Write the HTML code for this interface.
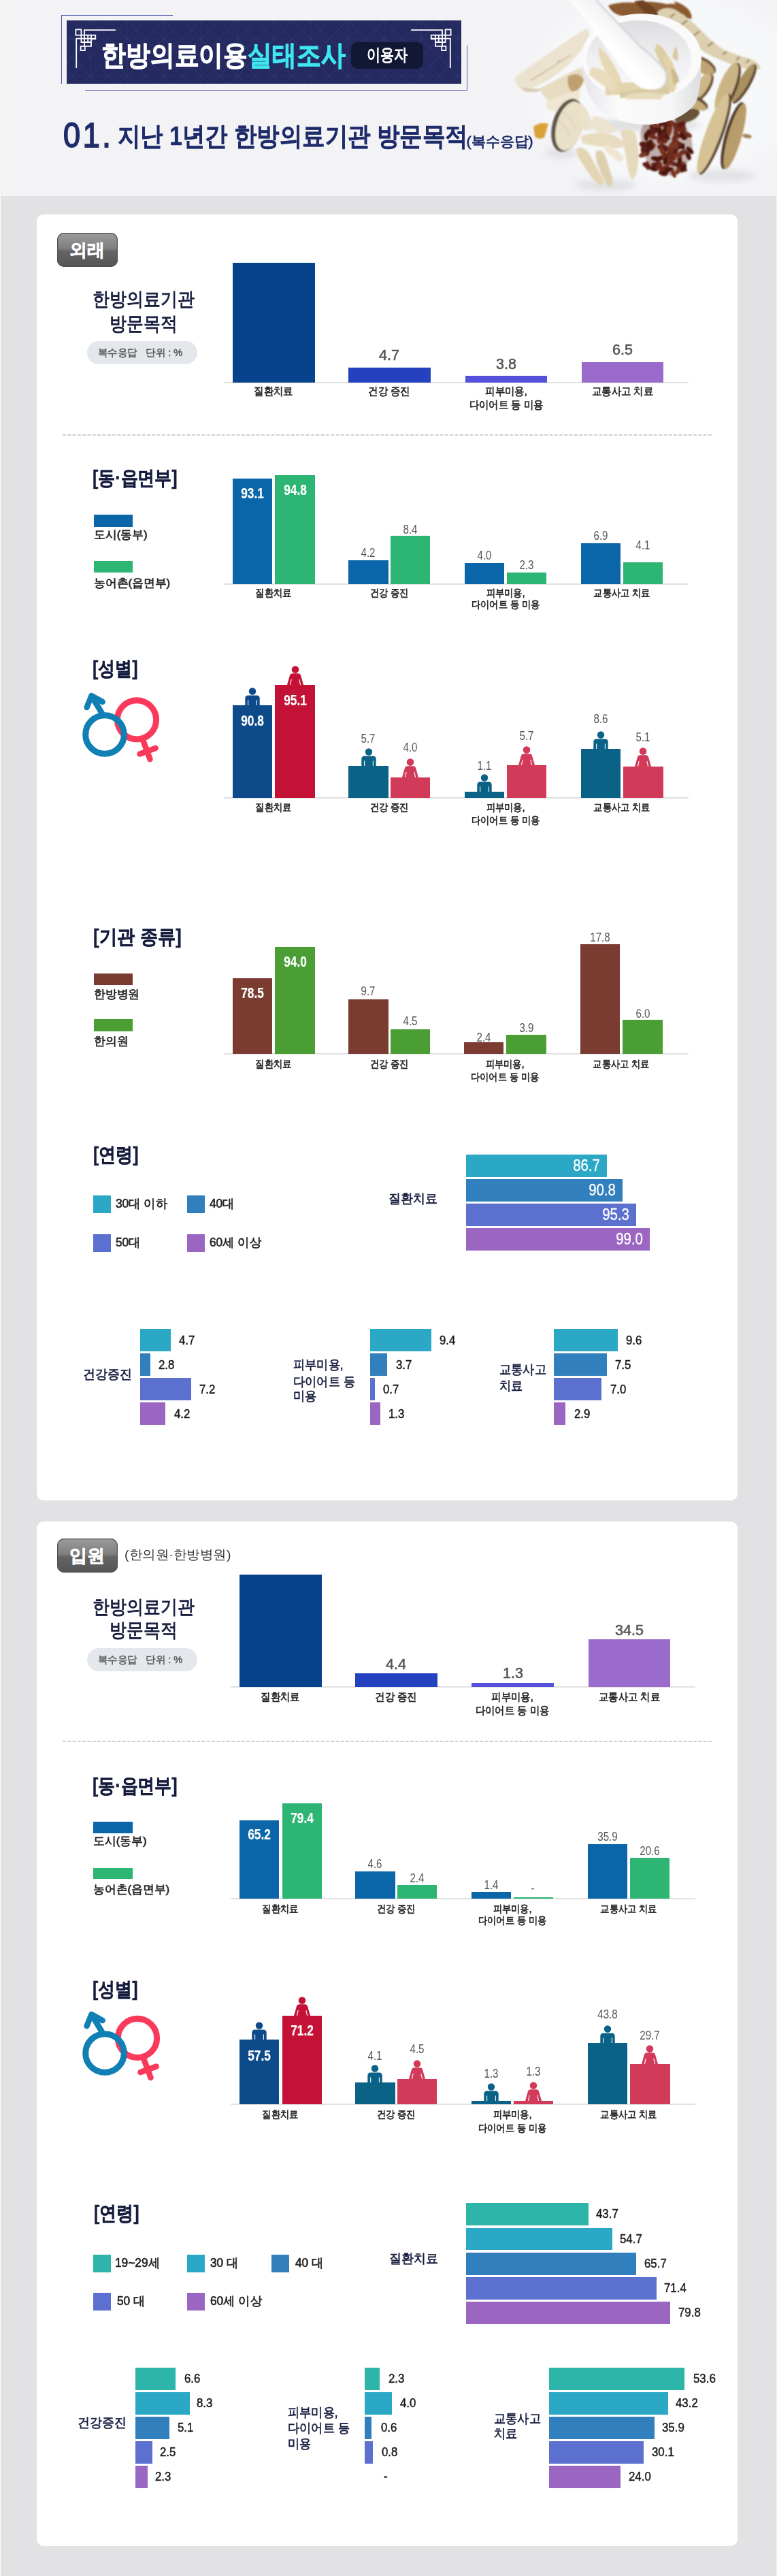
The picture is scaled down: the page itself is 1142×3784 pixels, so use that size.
<!DOCTYPE html><html><head><meta charset="utf-8"><style>html,body{margin:0;padding:0;}body{width:1142px;height:3784px;position:relative;overflow:hidden;background:#e2e2e5;font-family:"Liberation Sans",sans-serif;}.a{position:absolute;}.t{position:absolute;white-space:nowrap;}.badge{border-radius:10px;background:linear-gradient(#9c9c9c 0%,#7f7f7f 46%,#646464 54%,#555555 100%);box-shadow:inset 0 0 0 1.2px #505050;}.dash{height:2px;background:repeating-linear-gradient(90deg,#d2d2d2 0 5px,transparent 5px 7.3px);}</style></head><body>
<div class="a" style="left:0.0px;top:0.0px;width:1142.0px;height:288.0px;background:#f3f3f6;"></div>
<div class="a" style="left:0.0px;top:0.0px;width:1.0px;height:3784.0px;background:#fafafa;"></div>
<div class="a" style="left:1.0px;top:0.0px;width:1.0px;height:288.0px;background:#e9e9ec;"></div>
<div class="a" style="left:1141.0px;top:288.0px;width:1.0px;height:3496.0px;background:#f2f2f4;"></div>
<div class="a" style="left:90.0px;top:22.0px;width:164.0px;height:1.0px;background:#4c55a8;"></div>
<div class="a" style="left:90.0px;top:22.0px;width:1.0px;height:101.0px;background:#4c55a8;"></div>
<div class="a" style="left:125.0px;top:132.0px;width:562.0px;height:1.0px;background:#4c55a8;"></div>
<div class="a" style="left:686.0px;top:67.0px;width:1.0px;height:66.0px;background:#4c55a8;"></div>
<svg class="a" style="left:98px;top:30px;" width="580" height="93" viewBox="0 0 580 93"><defs><pattern id="dp" width="54" height="54" patternUnits="userSpaceOnUse" x="8" y="0"><path d="M0 27 L27 0 L54 27 L27 54 Z M0 0 L54 54 M54 0 L0 54" fill="none" stroke="#3a4180" stroke-width="1" opacity="0.55"/><path d="M27 0 V54 M0 27 H54" stroke="#333a78" stroke-width="1" opacity="0.35"/></pattern></defs><rect width="580" height="93" fill="#242a60"/><rect width="580" height="93" fill="url(#dp)"/></svg>
<svg class="a" style="left:106px;top:38px;" width="64" height="62" viewBox="0 0 64 62"><g fill="none" stroke="#ffffff" stroke-width="1.8" stroke-linecap="square"><rect x="5.4" y="5.4" width="8" height="8.3"/><path d="M18 6.2 H63 M18 6.2 V29.9 M13.4 13.7 V24 M23.2 13.7 V24 M13.4 13.7 H28 M6.2 18.6 H34 M13.4 24 H28 M6.2 18.6 V61 M28 18.6 V29.9 H18"/><rect x="28" y="13.7" width="6.3" height="5.6"/><rect x="12.6" y="29.9" width="6.2" height="6.2"/></g></svg>
<svg class="a" style="left:604px;top:38px;transform:scaleX(-1);" width="64" height="62" viewBox="0 0 64 62"><g fill="none" stroke="#ffffff" stroke-width="1.8" stroke-linecap="square"><rect x="5.4" y="5.4" width="8" height="8.3"/><path d="M18 6.2 H63 M18 6.2 V29.9 M13.4 13.7 V24 M23.2 13.7 V24 M13.4 13.7 H28 M6.2 18.6 H34 M13.4 24 H28 M6.2 18.6 V61 M28 18.6 V29.9 H18"/><rect x="28" y="13.7" width="6.3" height="5.6"/><rect x="12.6" y="29.9" width="6.2" height="6.2"/></g></svg>
<svg class="a" style="left:740px;top:0px;" width="402" height="288" viewBox="0 0 402 288"><defs><filter id="bl" x="-10%" y="-10%" width="120%" height="120%"><feGaussianBlur stdDeviation="0.8"/></filter><filter id="bl2" x="-30%" y="-30%" width="160%" height="160%"><feGaussianBlur stdDeviation="5"/></filter><linearGradient id="bowlg" x1="0" y1="0" x2="1" y2="0"><stop offset="0" stop-color="#e4e5e8"/><stop offset="0.3" stop-color="#fbfbfc"/><stop offset="0.75" stop-color="#f6f6f7"/><stop offset="1" stop-color="#dcdde0"/></linearGradient><linearGradient id="inng" x1="0" y1="0" x2="0" y2="1"><stop offset="0" stop-color="#dcdde0"/><stop offset="0.5" stop-color="#f0f0f2"/><stop offset="1" stop-color="#fafafb"/></linearGradient><linearGradient id="pestg" x1="0" y1="1" x2="1" y2="0"><stop offset="0" stop-color="#f0f1f3"/><stop offset="0.45" stop-color="#ffffff"/><stop offset="1" stop-color="#d5d6da"/></linearGradient><radialGradient id="bgfade" cx="0.6" cy="0.45" r="0.6"><stop offset="0" stop-color="#f8f9fa"/><stop offset="0.75" stop-color="#f6f7f9"/><stop offset="1" stop-color="#f3f3f6" stop-opacity="0"/></radialGradient></defs><rect x="0" y="0" width="402" height="288" fill="url(#bgfade)"/><g filter="url(#bl2)" opacity="0.55"><ellipse cx="205" cy="184" rx="85" ry="9" fill="#c9cacd"/><ellipse cx="150" cy="272" rx="45" ry="8" fill="#d2d3d6"/><ellipse cx="320" cy="258" rx="50" ry="9" fill="#d2d3d6"/><ellipse cx="85" cy="225" rx="25" ry="8" fill="#d2d3d6"/></g><g filter="url(#bl)"><path d="M154 8 Q170 2 195 4 Q215 0 240 6 Q258 4 268 12 L262 26 Q240 24 220 20 Q200 26 178 24 Q160 22 154 8 Z" fill="#8a5a32"/><path d="M192 2 L205 0 Q222 10 228 22 L214 26 Q204 14 192 2 Z" fill="#6e4224"/><path d="M250 2 Q262 4 272 14 Q278 22 276 28 L268 26 Q260 14 250 2 Z" fill="#8c5a2e"/><path d="M226 18 Q236 8 252 14 Q272 26 290 44 Q305 60 322 72 Q345 82 362 86 Q376 92 378 100 Q370 106 352 100 Q332 94 314 86 Q300 80 288 72 Q270 56 250 42 Q232 32 226 18 Z" fill="#ddd0b0"/><path d="M245 25 L252 20 M262 36 L270 30 M280 52 L288 46 M300 68 L308 62 M322 80 L328 76 M342 88 L347 84 M357 92 L361 88" stroke="#8a7050" stroke-width="2"/><ellipse cx="270.0" cy="170.0" rx="19" ry="9" fill="#6a5238" transform="rotate(-20 270.0 170.0)"/><ellipse cx="294.5" cy="98.0" rx="10.5" ry="21" fill="#6e5436" transform="rotate(-60 292.0 98.0)"/><ellipse cx="292.0" cy="98.0" rx="9" ry="20" fill="#bfa574" transform="rotate(-60 292.0 98.0)"/><ellipse cx="354.5" cy="122.0" rx="8.5" ry="33" fill="#5e4630" transform="rotate(30 352.0 122.0)"/><ellipse cx="352.0" cy="122.0" rx="7" ry="32" fill="#a89060" transform="rotate(30 352.0 122.0)"/><ellipse cx="330.5" cy="128.0" rx="12.5" ry="39" fill="#5a4230" transform="rotate(22 328.0 128.0)"/><ellipse cx="328.0" cy="128.0" rx="11" ry="38" fill="#cbb484" transform="rotate(22 328.0 128.0)"/><ellipse cx="292.5" cy="128.0" rx="10.5" ry="25" fill="#6a5034" transform="rotate(35 290.0 128.0)"/><ellipse cx="290.0" cy="128.0" rx="9" ry="24" fill="#cdb788" transform="rotate(35 290.0 128.0)"/><ellipse cx="282.5" cy="152.0" rx="8.5" ry="21" fill="#5e4630" transform="rotate(-65 280.0 152.0)"/><ellipse cx="280.0" cy="152.0" rx="7" ry="20" fill="#c4ab7a" transform="rotate(-65 280.0 152.0)"/><ellipse cx="337.0" cy="200.0" rx="11.5" ry="51" fill="#4e3826" transform="rotate(16 340.0 200.0)"/><ellipse cx="340.0" cy="200.0" rx="10" ry="50" fill="#b89c6a" transform="rotate(16 340.0 200.0)"/><ellipse cx="310.5" cy="196.0" rx="12.5" ry="63" fill="#5e4630" transform="rotate(20 308.0 196.0)"/><ellipse cx="308.0" cy="196.0" rx="11" ry="62" fill="#d6c294" transform="rotate(20 308.0 196.0)"/><ellipse cx="358.0" cy="200.0" rx="7" ry="3" fill="#a08860" transform="rotate(10 358.0 200.0)"/><path d="M206 182 Q225 172 248 176 Q270 182 275 200 Q282 222 270 240 Q262 258 248 258 Q232 256 222 248 Q206 236 204 215 Q198 195 206 182 Z" fill="#5a2a22" opacity="0.35"/><ellipse cx="227.3" cy="188.4" rx="6.8" ry="3.4" fill="#5a1c14" transform="rotate(117 227.3 188.4)"/><ellipse cx="263.1" cy="183.7" rx="6.8" ry="3.4" fill="#6e2a1e" transform="rotate(105 263.1 183.7)"/><ellipse cx="206.7" cy="211.6" rx="6.8" ry="3.4" fill="#5a1c14" transform="rotate(13 206.7 211.6)"/><ellipse cx="243.7" cy="180.8" rx="6.8" ry="3.4" fill="#6e2a1e" transform="rotate(102 243.7 180.8)"/><ellipse cx="249.4" cy="223.8" rx="6.8" ry="3.4" fill="#7a3424" transform="rotate(11 249.4 223.8)"/><ellipse cx="244.1" cy="186.9" rx="6.8" ry="3.4" fill="#5a1c14" transform="rotate(75 244.1 186.9)"/><ellipse cx="245.1" cy="221.9" rx="6.8" ry="3.4" fill="#5a1c14" transform="rotate(123 245.1 221.9)"/><ellipse cx="245.9" cy="228.4" rx="6.8" ry="3.4" fill="#5a1c14" transform="rotate(67 245.9 228.4)"/><ellipse cx="244.6" cy="226.8" rx="6.8" ry="3.4" fill="#7a3424" transform="rotate(89 244.6 226.8)"/><ellipse cx="260.0" cy="214.2" rx="6.8" ry="3.4" fill="#4a1510" transform="rotate(166 260.0 214.2)"/><ellipse cx="225.6" cy="241.1" rx="6.8" ry="3.4" fill="#6e2a1e" transform="rotate(126 225.6 241.1)"/><ellipse cx="209.9" cy="200.6" rx="6.8" ry="3.4" fill="#4a1510" transform="rotate(89 209.9 200.6)"/><ellipse cx="256.5" cy="199.6" rx="6.8" ry="3.4" fill="#5a1c14" transform="rotate(176 256.5 199.6)"/><ellipse cx="240.9" cy="189.5" rx="6.8" ry="3.4" fill="#7a3424" transform="rotate(62 240.9 189.5)"/><ellipse cx="234.4" cy="254.9" rx="6.8" ry="3.4" fill="#4a1510" transform="rotate(14 234.4 254.9)"/><ellipse cx="228.5" cy="204.7" rx="6.8" ry="3.4" fill="#7a3424" transform="rotate(89 228.5 204.7)"/><ellipse cx="223.4" cy="233.2" rx="6.8" ry="3.4" fill="#4a1510" transform="rotate(12 223.4 233.2)"/><ellipse cx="263.2" cy="199.3" rx="6.8" ry="3.4" fill="#4a1510" transform="rotate(69 263.2 199.3)"/><ellipse cx="205.6" cy="213.9" rx="6.8" ry="3.4" fill="#5a1c14" transform="rotate(30 205.6 213.9)"/><ellipse cx="239.5" cy="193.9" rx="6.8" ry="3.4" fill="#6e2a1e" transform="rotate(52 239.5 193.9)"/><ellipse cx="232.6" cy="251.2" rx="6.8" ry="3.4" fill="#6e2a1e" transform="rotate(89 232.6 251.2)"/><ellipse cx="236.3" cy="221.1" rx="6.8" ry="3.4" fill="#7a3424" transform="rotate(159 236.3 221.1)"/><ellipse cx="266.2" cy="198.8" rx="6.8" ry="3.4" fill="#4a1510" transform="rotate(75 266.2 198.8)"/><ellipse cx="253.2" cy="207.2" rx="6.8" ry="3.4" fill="#5a1c14" transform="rotate(42 253.2 207.2)"/><ellipse cx="216.7" cy="195.0" rx="6.8" ry="3.4" fill="#7a3424" transform="rotate(42 216.7 195.0)"/><ellipse cx="263.8" cy="191.0" rx="6.8" ry="3.4" fill="#6e2a1e" transform="rotate(51 263.8 191.0)"/><ellipse cx="234.2" cy="206.3" rx="6.8" ry="3.4" fill="#6e2a1e" transform="rotate(102 234.2 206.3)"/><ellipse cx="253.7" cy="218.3" rx="6.8" ry="3.4" fill="#5a1c14" transform="rotate(111 253.7 218.3)"/><ellipse cx="236.9" cy="247.4" rx="6.8" ry="3.4" fill="#7a3424" transform="rotate(171 236.9 247.4)"/><ellipse cx="232.7" cy="208.3" rx="6.8" ry="3.4" fill="#7a3424" transform="rotate(87 232.7 208.3)"/><ellipse cx="219.0" cy="189.3" rx="6.8" ry="3.4" fill="#5a1c14" transform="rotate(61 219.0 189.3)"/><ellipse cx="211.4" cy="222.5" rx="6.8" ry="3.4" fill="#4a1510" transform="rotate(97 211.4 222.5)"/><ellipse cx="248.2" cy="181.8" rx="6.8" ry="3.4" fill="#7a3424" transform="rotate(37 248.2 181.8)"/><ellipse cx="214.7" cy="196.7" rx="6.8" ry="3.4" fill="#4a1510" transform="rotate(63 214.7 196.7)"/><ellipse cx="238.1" cy="185.5" rx="6.8" ry="3.4" fill="#7a3424" transform="rotate(88 238.1 185.5)"/><ellipse cx="238.6" cy="201.6" rx="6.8" ry="3.4" fill="#4a1510" transform="rotate(26 238.6 201.6)"/><ellipse cx="257.3" cy="215.2" rx="6.8" ry="3.4" fill="#5a1c14" transform="rotate(125 257.3 215.2)"/><ellipse cx="230.0" cy="232.6" rx="6.8" ry="3.4" fill="#4a1510" transform="rotate(165 230.0 232.6)"/><ellipse cx="254.1" cy="197.4" rx="6.8" ry="3.4" fill="#6e2a1e" transform="rotate(66 254.1 197.4)"/><ellipse cx="229.6" cy="194.3" rx="6.8" ry="3.4" fill="#4a1510" transform="rotate(97 229.6 194.3)"/><ellipse cx="249.8" cy="226.3" rx="6.8" ry="3.4" fill="#6e2a1e" transform="rotate(142 249.8 226.3)"/><ellipse cx="262.0" cy="243.1" rx="6.8" ry="3.4" fill="#6e2a1e" transform="rotate(133 262.0 243.1)"/><ellipse cx="218.4" cy="216.4" rx="6.8" ry="3.4" fill="#5a1c14" transform="rotate(132 218.4 216.4)"/><ellipse cx="260.9" cy="214.7" rx="6.8" ry="3.4" fill="#4a1510" transform="rotate(35 260.9 214.7)"/><ellipse cx="236.2" cy="252.8" rx="6.8" ry="3.4" fill="#4a1510" transform="rotate(178 236.2 252.8)"/><ellipse cx="237.8" cy="203.7" rx="6.8" ry="3.4" fill="#5a1c14" transform="rotate(87 237.8 203.7)"/><ellipse cx="238.5" cy="229.5" rx="6.8" ry="3.4" fill="#5a1c14" transform="rotate(144 238.5 229.5)"/><ellipse cx="264.1" cy="185.8" rx="6.8" ry="3.4" fill="#6e2a1e" transform="rotate(70 264.1 185.8)"/><ellipse cx="238.4" cy="190.6" rx="6.8" ry="3.4" fill="#4a1510" transform="rotate(142 238.4 190.6)"/><ellipse cx="256.0" cy="214.0" rx="6.8" ry="3.4" fill="#5a1c14" transform="rotate(134 256.0 214.0)"/><ellipse cx="256.2" cy="189.9" rx="6.8" ry="3.4" fill="#6e2a1e" transform="rotate(23 256.2 189.9)"/><ellipse cx="246.5" cy="214.2" rx="6.8" ry="3.4" fill="#7a3424" transform="rotate(118 246.5 214.2)"/><ellipse cx="251.3" cy="204.7" rx="6.8" ry="3.4" fill="#6e2a1e" transform="rotate(99 251.3 204.7)"/><ellipse cx="256.3" cy="184.4" rx="6.8" ry="3.4" fill="#6e2a1e" transform="rotate(135 256.3 184.4)"/><ellipse cx="235.2" cy="247.5" rx="6.8" ry="3.4" fill="#6e2a1e" transform="rotate(149 235.2 247.5)"/><ellipse cx="240.1" cy="238.6" rx="6.8" ry="3.4" fill="#7a3424" transform="rotate(59 240.1 238.6)"/><ellipse cx="257.3" cy="249.6" rx="6.8" ry="3.4" fill="#7a3424" transform="rotate(119 257.3 249.6)"/><ellipse cx="263.6" cy="248.0" rx="6.8" ry="3.4" fill="#6e2a1e" transform="rotate(24 263.6 248.0)"/><ellipse cx="241.7" cy="177.5" rx="6.8" ry="3.4" fill="#6e2a1e" transform="rotate(79 241.7 177.5)"/><ellipse cx="247.8" cy="239.6" rx="6.8" ry="3.4" fill="#6e2a1e" transform="rotate(27 247.8 239.6)"/><ellipse cx="238.1" cy="235.5" rx="6.8" ry="3.4" fill="#4a1510" transform="rotate(100 238.1 235.5)"/><ellipse cx="253.1" cy="219.5" rx="6.8" ry="3.4" fill="#5a1c14" transform="rotate(87 253.1 219.5)"/><ellipse cx="211.0" cy="213.1" rx="6.8" ry="3.4" fill="#5a1c14" transform="rotate(5 211.0 213.1)"/><ellipse cx="235.9" cy="226.2" rx="6.8" ry="3.4" fill="#6e2a1e" transform="rotate(91 235.9 226.2)"/><ellipse cx="253.9" cy="213.1" rx="6.8" ry="3.4" fill="#7a3424" transform="rotate(96 253.9 213.1)"/><ellipse cx="240.6" cy="196.3" rx="6.8" ry="3.4" fill="#4a1510" transform="rotate(94 240.6 196.3)"/><ellipse cx="218.6" cy="212.7" rx="6.8" ry="3.4" fill="#7a3424" transform="rotate(75 218.6 212.7)"/><ellipse cx="235.8" cy="181.9" rx="6.8" ry="3.4" fill="#5a1c14" transform="rotate(43 235.8 181.9)"/><ellipse cx="219.3" cy="200.8" rx="6.8" ry="3.4" fill="#6e2a1e" transform="rotate(22 219.3 200.8)"/><ellipse cx="271.6" cy="228.8" rx="6.8" ry="3.4" fill="#4a1510" transform="rotate(66 271.6 228.8)"/><ellipse cx="232.7" cy="216.0" rx="6.8" ry="3.4" fill="#6e2a1e" transform="rotate(178 232.7 216.0)"/><ellipse cx="215.6" cy="211.4" rx="6.8" ry="3.4" fill="#4a1510" transform="rotate(93 215.6 211.4)"/><ellipse cx="234.3" cy="205.2" rx="6.8" ry="3.4" fill="#4a1510" transform="rotate(17 234.3 205.2)"/><ellipse cx="205.4" cy="221.4" rx="6.8" ry="3.4" fill="#5a1c14" transform="rotate(79 205.4 221.4)"/><ellipse cx="231.7" cy="218.4" rx="6.8" ry="3.4" fill="#5a1c14" transform="rotate(53 231.7 218.4)"/><ellipse cx="220.5" cy="247.9" rx="6.8" ry="3.4" fill="#4a1510" transform="rotate(15 220.5 247.9)"/><ellipse cx="223.5" cy="186.6" rx="6.8" ry="3.4" fill="#4a1510" transform="rotate(76 223.5 186.6)"/><ellipse cx="233.2" cy="220.0" rx="6.8" ry="3.4" fill="#7a3424" transform="rotate(93 233.2 220.0)"/><ellipse cx="254.4" cy="183.3" rx="6.8" ry="3.4" fill="#6e2a1e" transform="rotate(10 254.4 183.3)"/><ellipse cx="234.6" cy="181.9" rx="6.8" ry="3.4" fill="#5a1c14" transform="rotate(169 234.6 181.9)"/><ellipse cx="261.7" cy="182.9" rx="6.8" ry="3.4" fill="#5a1c14" transform="rotate(154 261.7 182.9)"/><ellipse cx="223.0" cy="186.0" rx="6.8" ry="3.4" fill="#7a3424" transform="rotate(2 223.0 186.0)"/><ellipse cx="270.7" cy="198.0" rx="6.8" ry="3.4" fill="#6e2a1e" transform="rotate(23 270.7 198.0)"/><ellipse cx="222.9" cy="190.9" rx="6.8" ry="3.4" fill="#4a1510" transform="rotate(168 222.9 190.9)"/><ellipse cx="242.2" cy="192.9" rx="6.8" ry="3.4" fill="#6e2a1e" transform="rotate(80 242.2 192.9)"/><ellipse cx="223.5" cy="241.9" rx="6.8" ry="3.4" fill="#5a1c14" transform="rotate(179 223.5 241.9)"/><ellipse cx="243.7" cy="191.5" rx="6.8" ry="3.4" fill="#7a3424" transform="rotate(85 243.7 191.5)"/><ellipse cx="211.7" cy="243.2" rx="6.8" ry="3.4" fill="#7a3424" transform="rotate(78 211.7 243.2)"/><ellipse cx="243.3" cy="248.9" rx="6.8" ry="3.4" fill="#4a1510" transform="rotate(175 243.3 248.9)"/><ellipse cx="228.7" cy="244.2" rx="6.8" ry="3.4" fill="#6e2a1e" transform="rotate(127 228.7 244.2)"/><ellipse cx="233.1" cy="204.5" rx="6.8" ry="3.4" fill="#6e2a1e" transform="rotate(10 233.1 204.5)"/><ellipse cx="205.0" cy="227.3" rx="6.8" ry="3.4" fill="#7a3424" transform="rotate(158 205.0 227.3)"/><ellipse cx="264.6" cy="247.4" rx="6.8" ry="3.4" fill="#4a1510" transform="rotate(121 264.6 247.4)"/><ellipse cx="247.1" cy="232.8" rx="6.8" ry="3.4" fill="#6e2a1e" transform="rotate(8 247.1 232.8)"/><ellipse cx="215.3" cy="212.6" rx="6.8" ry="3.4" fill="#4a1510" transform="rotate(47 215.3 212.6)"/><ellipse cx="274.0" cy="220.9" rx="6.8" ry="3.4" fill="#4a1510" transform="rotate(44 274.0 220.9)"/><ellipse cx="219.7" cy="191.0" rx="6.8" ry="3.4" fill="#5a1c14" transform="rotate(60 219.7 191.0)"/><ellipse cx="238.2" cy="217.2" rx="6.8" ry="3.4" fill="#5a1c14" transform="rotate(36 238.2 217.2)"/><ellipse cx="210.5" cy="243.0" rx="6.8" ry="3.4" fill="#5a1c14" transform="rotate(26 210.5 243.0)"/><ellipse cx="232.4" cy="200.6" rx="6.8" ry="3.4" fill="#5a1c14" transform="rotate(113 232.4 200.6)"/><ellipse cx="246.2" cy="219.4" rx="6.8" ry="3.4" fill="#7a3424" transform="rotate(135 246.2 219.4)"/><ellipse cx="259.0" cy="235.1" rx="6.8" ry="3.4" fill="#4a1510" transform="rotate(89 259.0 235.1)"/><ellipse cx="256.1" cy="228.7" rx="6.8" ry="3.4" fill="#7a3424" transform="rotate(8 256.1 228.7)"/><ellipse cx="256.8" cy="242.6" rx="6.8" ry="3.4" fill="#5a1c14" transform="rotate(25 256.8 242.6)"/><ellipse cx="263.5" cy="223.9" rx="6.8" ry="3.4" fill="#6e2a1e" transform="rotate(161 263.5 223.9)"/><ellipse cx="249.9" cy="254.7" rx="6.8" ry="3.4" fill="#7a3424" transform="rotate(68 249.9 254.7)"/><ellipse cx="244.2" cy="227.5" rx="6.8" ry="3.4" fill="#6e2a1e" transform="rotate(113 244.2 227.5)"/><path d="M17 114 Q40 96 70 76 Q98 56 122 42 Q128 44 126 56 Q112 80 90 100 Q62 124 32 132 Q18 130 17 114 Z" fill="#ebe3cf"/><path d="M40 118 Q70 100 100 80 M55 110 L62 104 M78 92 L84 88" stroke="#c8b48c" stroke-width="1.5" fill="none"/><path d="M26 128 Q50 132 62 130 Q48 138 30 134 Z" fill="#d8cbb0"/><path d="M54 130 Q80 115 112 100 Q122 104 118 120 Q105 140 80 150 Q60 152 54 130 Z" fill="#e7dcc2"/><path d="M95 112 Q112 104 118 118 Q114 132 102 136 Q92 128 95 112 Z" fill="#c0a070"/><path d="M62 150 Q90 136 112 132 Q116 148 100 158 Q78 168 64 160 Z" fill="#efe7d4"/><ellipse cx="94" cy="184" rx="22" ry="40" transform="rotate(16 94 184)" fill="#5f5548"/><ellipse cx="97" cy="185" rx="19" ry="37" transform="rotate(16 97 185)" fill="#e9e0c8"/><path d="M85 165 Q100 170 105 190 M80 178 Q92 182 96 200" stroke="#d8cab0" stroke-width="1.2" fill="none"/><path d="M44 186 Q55 178 66 182 L60 202 Q50 206 46 200 Z" fill="#d9a238"/><path d="M112 150 Q125 160 132 185 Q125 195 115 190 Q108 170 112 150 Z" fill="#ebe2ce"/><path d="M132 170 Q150 172 166 190 Q160 198 140 196 Q128 188 132 170 Z" fill="#ece3d0"/><path d="M114 200 Q135 192 160 198 Q178 206 180 214 Q168 220 150 216 Q128 214 116 210 Z" fill="#e7dcc0"/><path d="M108 218 Q118 214 126 226 Q138 248 146 262 Q150 272 140 272 Q126 258 116 240 Q106 228 108 218 Z" fill="#e3d5b4"/><path d="M136 222 Q146 218 150 230 Q156 248 160 262 Q162 274 154 274 Q146 262 140 246 Q134 232 136 222 Z" fill="#ddd0ae"/><path d="M172 192 Q186 186 194 196 Q200 218 198 240 Q196 262 188 264 Q182 250 180 230 Q176 210 172 192 Z" fill="#e6dabc"/><path d="M150 212 Q168 220 178 232 L170 238 Q156 228 148 220 Z" fill="#efe6d2"/></g><path d="M116 86 Q114 140 148 166 Q180 184 214 183 Q260 180 282 152 Q292 130 290 86 Z" fill="url(#bowlg)"/><ellipse cx="203" cy="84" rx="88" ry="64" fill="#fafafb"/><ellipse cx="199" cy="87" rx="77" ry="57" fill="url(#inng)"/><g filter="url(#bl)"><path d="M140 70 Q152 75 170 110 Q178 130 172 140 Q162 132 150 105 Q138 82 140 70 Z" fill="#e6d8b4"/><path d="M190 62 Q200 64 204 80 Q208 110 202 136 L194 136 Q192 100 186 72 Z" fill="#d6c498"/><path d="M150 126 Q180 118 220 122 Q236 126 240 136 L150 140 Z" fill="#e2d4ae"/><path d="M226 64 Q240 72 246 96 Q250 118 244 132 L234 128 Q236 100 222 74 Z" fill="#dccca4"/><path d="M252 68 Q258 74 256 90 L248 84 Z" fill="#d8c8a0"/><path d="M128 100 Q150 96 168 128 L160 136 Q140 120 126 110 Z" fill="#e8dcbc"/><path d="M206 104 Q222 112 232 138 L220 140 Q210 124 202 112 Z" fill="#cdb88c"/><path d="M170 136 Q200 130 246 128 L244 138 Q200 142 172 144 Z" fill="#d9c9a0"/><path d="M238 80 Q248 84 254 110 Q256 128 250 136 L242 134 Q244 110 234 86 Z" fill="#e2d2aa"/><path d="M206 76 Q214 80 216 96 L208 98 Z" fill="#e6d8b6"/><path d="M246 100 Q256 104 258 120 L250 124 Z" fill="#cdb98e"/><path d="M180 140 Q210 132 236 138 L232 146 Q206 146 182 146 Z" fill="#e6dbbd"/></g><g filter="url(#bl)"><path d="M97 0 L136 0 Q170 36 202 69 Q228 90 238 104 Q244 122 230 130 Q214 134 202 129 Q190 122 182 111 Q168 94 156 77 Q138 52 123 31 Z" fill="url(#pestg)"/><path d="M136 0 Q170 36 202 69 Q228 90 238 104 Q244 122 230 130" stroke="#d2d3d6" stroke-width="2.5" fill="none"/></g></svg>
<div class="t" style="left:149.0px;top:56.6px;height:49.2px;line-height:49.2px;font-size:41px;color:#ffffff;font-weight:bold;transform:scaleX(0.874);transform-origin:left center;-webkit-text-stroke:1.0px #ffffff;">한방의료이용<span style="color:#3fe6f0;-webkit-text-stroke-color:#3fe6f0">실태조사</span></div>
<div class="a" style="left:516.0px;top:62.0px;width:106.0px;height:39.0px;background:#121733;border-radius:9px;"></div>
<div class="t" style="left:169.3px;width:800px;text-align:center;top:66.3px;height:29.5px;line-height:29.5px;font-size:24.6px;color:#ffffff;transform:scaleX(0.81);transform-origin:center center;-webkit-text-stroke:1.0px #ffffff;">이용자</div>
<div class="t" style="left:92.5px;top:169.4px;height:60.0px;line-height:60.0px;font-size:50px;color:#1f2c6a;letter-spacing:4px;transform:scaleX(0.9);transform-origin:left center;-webkit-text-stroke:1.8px #1f2c6a;">01.</div>
<div class="t" style="left:173.4px;top:177.6px;height:45.6px;line-height:45.6px;font-size:38px;color:#1f2c6a;font-weight:bold;transform:scaleX(0.88);transform-origin:left center;-webkit-text-stroke:0.5px #1f2c6a;">지난 1년간 한방의료기관 방문목적</div>
<div class="t" style="left:685.6px;top:194.8px;height:25.2px;line-height:25.2px;font-size:21px;color:#1f2c6a;-webkit-text-stroke:0.8px #1f2c6a;">(복수응답)</div>
<div class="a" style="left:54.0px;top:315.0px;width:1030.0px;height:1889.0px;background:#ffffff;border-radius:10px;"></div>
<div class="a badge" style="left:84px;top:342px;width:89px;height:50px;"></div>
<div class="t" style="left:-272.4px;width:800px;text-align:center;top:351.8px;height:31.2px;line-height:31.2px;font-size:26px;color:#ffffff;font-weight:bold;-webkit-text-stroke:0.5px #ffffff;">외래</div>
<div class="t" style="left:-189.0px;width:800px;text-align:center;top:423.4px;height:33.6px;line-height:33.6px;font-size:28px;color:#161c3d;transform:scaleX(0.89);transform-origin:center center;-webkit-text-stroke:0.9px #161c3d;">한방의료기관</div>
<div class="t" style="left:-189.0px;width:800px;text-align:center;top:458.9px;height:33.6px;line-height:33.6px;font-size:28px;color:#161c3d;transform:scaleX(0.89);transform-origin:center center;-webkit-text-stroke:0.9px #161c3d;">방문목적</div>
<div class="a" style="left:128.0px;top:501.0px;width:162.0px;height:34.0px;background:#e4e7eb;border-radius:17px;"></div>
<div class="t" style="left:-194.0px;width:800px;text-align:center;top:508.6px;height:18.0px;line-height:18.0px;font-size:15px;color:#555;transform:scaleX(0.97);transform-origin:center center;-webkit-text-stroke:0.45px #555;">복수응답&nbsp;&nbsp;&nbsp;단위 : %</div>
<div class="a" style="left:329.0px;top:561.0px;width:683.0px;height:2.0px;background:#e2e2e2;"></div>
<div class="a" style="left:342.0px;top:386.0px;width:121.0px;height:176.0px;background:#07438c;"></div>
<div class="a" style="left:512.0px;top:540.0px;width:121.0px;height:22.0px;background:#2441bf;"></div>
<div class="a" style="left:684.0px;top:552.0px;width:120.0px;height:10.0px;background:#5551dc;"></div>
<div class="a" style="left:855.0px;top:532.0px;width:120.0px;height:30.0px;background:#9a6bcc;"></div>
<div class="t" style="left:172.0px;width:800px;text-align:center;top:507.8px;height:27.1px;line-height:27.1px;font-size:22.6px;color:#555555;transform:scaleX(0.95);transform-origin:center center;-webkit-text-stroke:0.6px #555555;">4.7</div>
<div class="t" style="left:344.0px;width:800px;text-align:center;top:521.0px;height:27.1px;line-height:27.1px;font-size:22.6px;color:#555555;transform:scaleX(0.95);transform-origin:center center;-webkit-text-stroke:0.6px #555555;">3.8</div>
<div class="t" style="left:515.0px;width:800px;text-align:center;top:500.1px;height:27.1px;line-height:27.1px;font-size:22.6px;color:#555555;transform:scaleX(0.95);transform-origin:center center;-webkit-text-stroke:0.6px #555555;">6.5</div>
<div class="t" style="left:2.0px;width:800px;text-align:center;top:565.4px;height:19.2px;line-height:19.2px;font-size:16px;color:#222222;transform:scaleX(0.9);transform-origin:center center;-webkit-text-stroke:0.65px #222222;">질환치료</div>
<div class="t" style="left:172.0px;width:800px;text-align:center;top:565.4px;height:19.2px;line-height:19.2px;font-size:16px;color:#222222;transform:scaleX(0.9);transform-origin:center center;-webkit-text-stroke:0.65px #222222;">건강 증진</div>
<div class="t" style="left:344.0px;width:800px;text-align:center;top:565.4px;height:19.2px;line-height:19.2px;font-size:16px;color:#222222;transform:scaleX(0.9);transform-origin:center center;-webkit-text-stroke:0.65px #222222;">피부미용,</div>
<div class="t" style="left:344.0px;width:800px;text-align:center;top:585.4px;height:19.2px;line-height:19.2px;font-size:16px;color:#222222;transform:scaleX(0.9);transform-origin:center center;-webkit-text-stroke:0.65px #222222;">다이어트 등 미용</div>
<div class="t" style="left:515.0px;width:800px;text-align:center;top:565.4px;height:19.2px;line-height:19.2px;font-size:16px;color:#222222;transform:scaleX(0.9);transform-origin:center center;-webkit-text-stroke:0.65px #222222;">교통사고 치료</div>
<svg class="a" style="left:92px;top:638px;" width="956" height="2" viewBox="0 0 956 2"><line x1="0" y1="1" x2="956" y2="1" stroke="#d0d0d0" stroke-width="2" stroke-dasharray="5 2.3"/></svg>
<div class="t" style="left:136.0px;top:684.7px;height:34.8px;line-height:34.8px;font-size:29px;color:#161c3d;font-weight:bold;transform:scaleX(0.86);transform-origin:left center;-webkit-text-stroke:0.4px #161c3d;">[동·읍면부]</div>
<div class="a" style="left:138.0px;top:756.0px;width:57.0px;height:17.5px;background:#0a66a9;"></div>
<div class="t" style="left:138.0px;top:776.3px;height:20.4px;line-height:20.4px;font-size:17px;color:#222222;transform:scaleX(0.99);transform-origin:left center;-webkit-text-stroke:0.65px #222222;">도시(동부)</div>
<div class="a" style="left:138.0px;top:824.0px;width:57.0px;height:16.6px;background:#2db573;"></div>
<div class="t" style="left:138.0px;top:847.3px;height:20.4px;line-height:20.4px;font-size:17px;color:#222222;transform:scaleX(0.99);transform-origin:left center;-webkit-text-stroke:0.65px #222222;">농어촌(읍면부)</div>
<div class="a" style="left:329.0px;top:857.0px;width:683.0px;height:2.0px;background:#e2e2e2;"></div>
<div class="a" style="left:342.0px;top:703.0px;width:58.0px;height:155.0px;background:#0a66a9;"></div>
<div class="a" style="left:404.0px;top:697.5px;width:59.0px;height:160.5px;background:#2db573;"></div>
<div class="a" style="left:512.0px;top:822.6px;width:59.0px;height:35.4px;background:#0a66a9;"></div>
<div class="a" style="left:574.0px;top:787.0px;width:58.0px;height:71.0px;background:#2db573;"></div>
<div class="a" style="left:683.0px;top:827.4px;width:58.0px;height:30.6px;background:#0a66a9;"></div>
<div class="a" style="left:745.0px;top:840.8px;width:58.0px;height:17.2px;background:#2db573;"></div>
<div class="a" style="left:854.0px;top:797.6px;width:58.0px;height:60.4px;background:#0a66a9;"></div>
<div class="a" style="left:916.0px;top:826.0px;width:58.0px;height:32.0px;background:#2db573;"></div>
<div class="t" style="left:-29.0px;width:800px;text-align:center;top:711.1px;height:27.2px;line-height:27.2px;font-size:22.7px;color:#fff;font-weight:bold;transform:scaleX(0.76);transform-origin:center center;-webkit-text-stroke:0.2px #fff;">93.1</div>
<div class="t" style="left:33.5px;width:800px;text-align:center;top:705.7px;height:27.2px;line-height:27.2px;font-size:22.7px;color:#fff;font-weight:bold;transform:scaleX(0.76);transform-origin:center center;-webkit-text-stroke:0.2px #fff;">94.8</div>
<div class="t" style="left:141.0px;width:800px;text-align:center;top:802.2px;height:21.6px;line-height:21.6px;font-size:18px;color:#555555;transform:scaleX(0.84);transform-origin:center center;">4.2</div>
<div class="t" style="left:203.0px;width:800px;text-align:center;top:768.2px;height:21.6px;line-height:21.6px;font-size:18px;color:#555555;transform:scaleX(0.84);transform-origin:center center;">8.4</div>
<div class="t" style="left:312.0px;width:800px;text-align:center;top:805.8px;height:21.6px;line-height:21.6px;font-size:18px;color:#555555;transform:scaleX(0.84);transform-origin:center center;">4.0</div>
<div class="t" style="left:374.0px;width:800px;text-align:center;top:819.7px;height:21.6px;line-height:21.6px;font-size:18px;color:#555555;transform:scaleX(0.84);transform-origin:center center;">2.3</div>
<div class="t" style="left:483.0px;width:800px;text-align:center;top:777.0px;height:21.6px;line-height:21.6px;font-size:18px;color:#555555;transform:scaleX(0.84);transform-origin:center center;">6.9</div>
<div class="t" style="left:545.0px;width:800px;text-align:center;top:791.2px;height:21.6px;line-height:21.6px;font-size:18px;color:#555555;transform:scaleX(0.84);transform-origin:center center;">4.1</div>
<div class="t" style="left:2.0px;width:800px;text-align:center;top:862.0px;height:18.0px;line-height:18.0px;font-size:15px;color:#222222;transform:scaleX(0.885);transform-origin:center center;-webkit-text-stroke:0.65px #222222;">질환치료</div>
<div class="t" style="left:172.0px;width:800px;text-align:center;top:862.0px;height:18.0px;line-height:18.0px;font-size:15px;color:#222222;transform:scaleX(0.885);transform-origin:center center;-webkit-text-stroke:0.65px #222222;">건강 증진</div>
<div class="t" style="left:343.0px;width:800px;text-align:center;top:862.0px;height:18.0px;line-height:18.0px;font-size:15px;color:#222222;transform:scaleX(0.885);transform-origin:center center;-webkit-text-stroke:0.65px #222222;">피부미용,</div>
<div class="t" style="left:343.0px;width:800px;text-align:center;top:879.2px;height:18.0px;line-height:18.0px;font-size:15px;color:#222222;transform:scaleX(0.885);transform-origin:center center;-webkit-text-stroke:0.65px #222222;">다이어트 등 미용</div>
<div class="t" style="left:514.0px;width:800px;text-align:center;top:862.0px;height:18.0px;line-height:18.0px;font-size:15px;color:#222222;transform:scaleX(0.885);transform-origin:center center;-webkit-text-stroke:0.65px #222222;">교통사고 치료</div>
<div class="t" style="left:136.0px;top:965.4px;height:34.8px;line-height:34.8px;font-size:29px;color:#161c3d;font-weight:bold;transform:scaleX(0.86);transform-origin:left center;-webkit-text-stroke:0.4px #161c3d;">[성별]</div>
<svg class="a" style="left:113.80000000000001px;top:1014.2px;" width="140" height="130" viewBox="0 0 140 130"><circle cx="87.0" cy="43.3" r="28.6" fill="none" stroke="#fb3a5b" stroke-width="9"/><path d="M96.5 74.3 L106.5 101.3 M91.5 93.5 L114.7 85.0" stroke="#fb3a5b" stroke-width="8.5" stroke-linecap="round" fill="none"/><circle cx="40.0" cy="65.0" r="28.3" fill="none" stroke="#107fb3" stroke-width="9"/><path d="M36.0 34.0 L21.0 9.0 M13.6 25.0 L20.5 8.0 L36.7 17.0" stroke="#107fb3" stroke-width="8.5" stroke-linecap="round" stroke-linejoin="round" fill="none"/></svg>
<div class="a" style="left:329.0px;top:1171.0px;width:683.0px;height:2.0px;background:#e2e2e2;"></div>
<div class="a" style="left:342.0px;top:1036.0px;width:58.0px;height:136.0px;background:#0d4a8a;"></div>
<div class="a" style="left:404.0px;top:1006.3px;width:59.0px;height:165.7px;background:#c41236;"></div>
<div class="a" style="left:512.0px;top:1124.7px;width:59.0px;height:47.3px;background:#0b6287;"></div>
<div class="a" style="left:574.0px;top:1141.7px;width:58.0px;height:30.3px;background:#d23a5a;"></div>
<div class="a" style="left:683.0px;top:1162.8px;width:58.0px;height:9.2px;background:#0b6287;"></div>
<div class="a" style="left:745.0px;top:1124.0px;width:58.0px;height:48.0px;background:#d23a5a;"></div>
<div class="a" style="left:854.0px;top:1099.5px;width:58.0px;height:72.5px;background:#0b6287;"></div>
<div class="a" style="left:916.0px;top:1126.3px;width:58.5px;height:45.7px;background:#d23a5a;"></div>
<svg class="a" style="left:359.0px;top:1010px" width="24" height="26" viewBox="0 0 24 26"><circle cx="12" cy="5.5" r="5.2" fill="#0d4a8a"/><path d="M1.3 26 V16 Q1.3 11.5 5.8 11.5 H18.2 Q22.7 11.5 22.7 16 V26 Z" fill="#0d4a8a"/><path d="M5.6 18.5 V26 M18.4 18.5 V26" stroke="#fff" stroke-width="1.2" opacity="0.9"/></svg>
<svg class="a" style="left:420.5px;top:978.3px" width="26" height="28" viewBox="0 0 26 28"><circle cx="13" cy="5.6" r="5.3" fill="#c41236"/><path d="M1 28 L4.8 14.5 Q5.8 11.2 9 11.2 H17 Q20.2 11.2 21.2 14.5 L25 28 Z" fill="#c41236"/><path d="M7.2 20 L5.4 28 M18.8 20 L20.6 28" stroke="#fff" stroke-width="1.2" opacity="0.9"/></svg>
<svg class="a" style="left:529.5px;top:1098.7px" width="24" height="26" viewBox="0 0 24 26"><circle cx="12" cy="5.5" r="5.2" fill="#0b6287"/><path d="M1.3 26 V16 Q1.3 11.5 5.8 11.5 H18.2 Q22.7 11.5 22.7 16 V26 Z" fill="#0b6287"/><path d="M5.6 18.5 V26 M18.4 18.5 V26" stroke="#fff" stroke-width="1.2" opacity="0.9"/></svg>
<svg class="a" style="left:590.0px;top:1113.7px" width="26" height="28" viewBox="0 0 26 28"><circle cx="13" cy="5.6" r="5.3" fill="#d23a5a"/><path d="M1 28 L4.8 14.5 Q5.8 11.2 9 11.2 H17 Q20.2 11.2 21.2 14.5 L25 28 Z" fill="#d23a5a"/><path d="M7.2 20 L5.4 28 M18.8 20 L20.6 28" stroke="#fff" stroke-width="1.2" opacity="0.9"/></svg>
<svg class="a" style="left:700.0px;top:1136.8px" width="24" height="26" viewBox="0 0 24 26"><circle cx="12" cy="5.5" r="5.2" fill="#0b6287"/><path d="M1.3 26 V16 Q1.3 11.5 5.8 11.5 H18.2 Q22.7 11.5 22.7 16 V26 Z" fill="#0b6287"/><path d="M5.6 18.5 V26 M18.4 18.5 V26" stroke="#fff" stroke-width="1.2" opacity="0.9"/></svg>
<svg class="a" style="left:761.0px;top:1096px" width="26" height="28" viewBox="0 0 26 28"><circle cx="13" cy="5.6" r="5.3" fill="#d23a5a"/><path d="M1 28 L4.8 14.5 Q5.8 11.2 9 11.2 H17 Q20.2 11.2 21.2 14.5 L25 28 Z" fill="#d23a5a"/><path d="M7.2 20 L5.4 28 M18.8 20 L20.6 28" stroke="#fff" stroke-width="1.2" opacity="0.9"/></svg>
<svg class="a" style="left:871.0px;top:1073.5px" width="24" height="26" viewBox="0 0 24 26"><circle cx="12" cy="5.5" r="5.2" fill="#0b6287"/><path d="M1.3 26 V16 Q1.3 11.5 5.8 11.5 H18.2 Q22.7 11.5 22.7 16 V26 Z" fill="#0b6287"/><path d="M5.6 18.5 V26 M18.4 18.5 V26" stroke="#fff" stroke-width="1.2" opacity="0.9"/></svg>
<svg class="a" style="left:932.25px;top:1098.3px" width="26" height="28" viewBox="0 0 26 28"><circle cx="13" cy="5.6" r="5.3" fill="#d23a5a"/><path d="M1 28 L4.8 14.5 Q5.8 11.2 9 11.2 H17 Q20.2 11.2 21.2 14.5 L25 28 Z" fill="#d23a5a"/><path d="M7.2 20 L5.4 28 M18.8 20 L20.6 28" stroke="#fff" stroke-width="1.2" opacity="0.9"/></svg>
<div class="t" style="left:-29.0px;width:800px;text-align:center;top:1045.1px;height:27.2px;line-height:27.2px;font-size:22.7px;color:#fff;font-weight:bold;transform:scaleX(0.76);transform-origin:center center;-webkit-text-stroke:0.2px #fff;">90.8</div>
<div class="t" style="left:33.5px;width:800px;text-align:center;top:1015.1px;height:27.2px;line-height:27.2px;font-size:22.7px;color:#fff;font-weight:bold;transform:scaleX(0.76);transform-origin:center center;-webkit-text-stroke:0.2px #fff;">95.1</div>
<div class="t" style="left:141.0px;width:800px;text-align:center;top:1075.2px;height:21.6px;line-height:21.6px;font-size:18px;color:#555555;transform:scaleX(0.84);transform-origin:center center;">5.7</div>
<div class="t" style="left:203.0px;width:800px;text-align:center;top:1088.2px;height:21.6px;line-height:21.6px;font-size:18px;color:#555555;transform:scaleX(0.84);transform-origin:center center;">4.0</div>
<div class="t" style="left:312.0px;width:800px;text-align:center;top:1115.2px;height:21.6px;line-height:21.6px;font-size:18px;color:#555555;transform:scaleX(0.84);transform-origin:center center;">1.1</div>
<div class="t" style="left:374.0px;width:800px;text-align:center;top:1070.7px;height:21.6px;line-height:21.6px;font-size:18px;color:#555555;transform:scaleX(0.84);transform-origin:center center;">5.7</div>
<div class="t" style="left:483.0px;width:800px;text-align:center;top:1045.9px;height:21.6px;line-height:21.6px;font-size:18px;color:#555555;transform:scaleX(0.84);transform-origin:center center;">8.6</div>
<div class="t" style="left:545.0px;width:800px;text-align:center;top:1073.2px;height:21.6px;line-height:21.6px;font-size:18px;color:#555555;transform:scaleX(0.84);transform-origin:center center;">5.1</div>
<div class="t" style="left:2.0px;width:800px;text-align:center;top:1176.5px;height:18.0px;line-height:18.0px;font-size:15px;color:#222222;transform:scaleX(0.885);transform-origin:center center;-webkit-text-stroke:0.65px #222222;">질환치료</div>
<div class="t" style="left:172.0px;width:800px;text-align:center;top:1176.5px;height:18.0px;line-height:18.0px;font-size:15px;color:#222222;transform:scaleX(0.885);transform-origin:center center;-webkit-text-stroke:0.65px #222222;">건강 증진</div>
<div class="t" style="left:343.0px;width:800px;text-align:center;top:1176.5px;height:18.0px;line-height:18.0px;font-size:15px;color:#222222;transform:scaleX(0.885);transform-origin:center center;-webkit-text-stroke:0.65px #222222;">피부미용,</div>
<div class="t" style="left:343.0px;width:800px;text-align:center;top:1195.5px;height:18.0px;line-height:18.0px;font-size:15px;color:#222222;transform:scaleX(0.885);transform-origin:center center;-webkit-text-stroke:0.65px #222222;">다이어트 등 미용</div>
<div class="t" style="left:514.0px;width:800px;text-align:center;top:1176.5px;height:18.0px;line-height:18.0px;font-size:15px;color:#222222;transform:scaleX(0.885);transform-origin:center center;-webkit-text-stroke:0.65px #222222;">교통사고 치료</div>
<div class="t" style="left:137.0px;top:1359.2px;height:34.8px;line-height:34.8px;font-size:29px;color:#161c3d;font-weight:bold;transform:scaleX(0.905);transform-origin:left center;-webkit-text-stroke:0.4px #161c3d;">[기관 종류]</div>
<div class="a" style="left:138.0px;top:1430.0px;width:57.0px;height:17.3px;background:#7a3b30;"></div>
<div class="t" style="left:138.0px;top:1450.8px;height:20.4px;line-height:20.4px;font-size:17px;color:#222222;transform:scaleX(0.99);transform-origin:left center;-webkit-text-stroke:0.65px #222222;">한방병원</div>
<div class="a" style="left:138.0px;top:1497.0px;width:57.0px;height:17.5px;background:#4a9e34;"></div>
<div class="t" style="left:138.0px;top:1520.3px;height:20.4px;line-height:20.4px;font-size:17px;color:#222222;transform:scaleX(0.99);transform-origin:left center;-webkit-text-stroke:0.65px #222222;">한의원</div>
<div class="a" style="left:329.0px;top:1547.0px;width:683.0px;height:2.0px;background:#e2e2e2;"></div>
<div class="a" style="left:342.0px;top:1437.2px;width:58.0px;height:110.8px;background:#7a3b30;"></div>
<div class="a" style="left:404.0px;top:1391.0px;width:59.0px;height:157.0px;background:#4a9e34;"></div>
<div class="a" style="left:512.0px;top:1467.6px;width:59.0px;height:80.4px;background:#7a3b30;"></div>
<div class="a" style="left:574.0px;top:1512.4px;width:58.0px;height:35.6px;background:#4a9e34;"></div>
<div class="a" style="left:682.0px;top:1531.4px;width:58.0px;height:16.6px;background:#7a3b30;"></div>
<div class="a" style="left:744.4px;top:1520.0px;width:58.2px;height:28.0px;background:#4a9e34;"></div>
<div class="a" style="left:852.5px;top:1387.3px;width:58.5px;height:160.7px;background:#7a3b30;"></div>
<div class="a" style="left:915.0px;top:1497.5px;width:59.0px;height:50.5px;background:#4a9e34;"></div>
<div class="t" style="left:-29.0px;width:800px;text-align:center;top:1444.9px;height:27.2px;line-height:27.2px;font-size:22.7px;color:#fff;font-weight:bold;transform:scaleX(0.76);transform-origin:center center;-webkit-text-stroke:0.2px #fff;">78.5</div>
<div class="t" style="left:33.5px;width:800px;text-align:center;top:1398.6px;height:27.2px;line-height:27.2px;font-size:22.7px;color:#fff;font-weight:bold;transform:scaleX(0.76);transform-origin:center center;-webkit-text-stroke:0.2px #fff;">94.0</div>
<div class="t" style="left:141.0px;width:800px;text-align:center;top:1446.0px;height:21.6px;line-height:21.6px;font-size:18px;color:#555555;transform:scaleX(0.84);transform-origin:center center;">9.7</div>
<div class="t" style="left:203.0px;width:800px;text-align:center;top:1490.2px;height:21.6px;line-height:21.6px;font-size:18px;color:#555555;transform:scaleX(0.84);transform-origin:center center;">4.5</div>
<div class="t" style="left:311.0px;width:800px;text-align:center;top:1513.9px;height:21.6px;line-height:21.6px;font-size:18px;color:#555555;transform:scaleX(0.84);transform-origin:center center;">2.4</div>
<div class="t" style="left:373.5px;width:800px;text-align:center;top:1500.2px;height:21.6px;line-height:21.6px;font-size:18px;color:#555555;transform:scaleX(0.84);transform-origin:center center;">3.9</div>
<div class="t" style="left:482.0px;width:800px;text-align:center;top:1367.2px;height:21.6px;line-height:21.6px;font-size:18px;color:#555555;transform:scaleX(0.84);transform-origin:center center;">17.8</div>
<div class="t" style="left:544.5px;width:800px;text-align:center;top:1478.9px;height:21.6px;line-height:21.6px;font-size:18px;color:#555555;transform:scaleX(0.84);transform-origin:center center;">6.0</div>
<div class="t" style="left:2.0px;width:800px;text-align:center;top:1553.8px;height:18.0px;line-height:18.0px;font-size:15px;color:#222222;transform:scaleX(0.885);transform-origin:center center;-webkit-text-stroke:0.65px #222222;">질환치료</div>
<div class="t" style="left:172.0px;width:800px;text-align:center;top:1553.8px;height:18.0px;line-height:18.0px;font-size:15px;color:#222222;transform:scaleX(0.885);transform-origin:center center;-webkit-text-stroke:0.65px #222222;">건강 증진</div>
<div class="t" style="left:342.0px;width:800px;text-align:center;top:1553.8px;height:18.0px;line-height:18.0px;font-size:15px;color:#222222;transform:scaleX(0.885);transform-origin:center center;-webkit-text-stroke:0.65px #222222;">피부미용,</div>
<div class="t" style="left:342.0px;width:800px;text-align:center;top:1573.0px;height:18.0px;line-height:18.0px;font-size:15px;color:#222222;transform:scaleX(0.885);transform-origin:center center;-webkit-text-stroke:0.65px #222222;">다이어트 등 미용</div>
<div class="t" style="left:513.0px;width:800px;text-align:center;top:1553.8px;height:18.0px;line-height:18.0px;font-size:15px;color:#222222;transform:scaleX(0.885);transform-origin:center center;-webkit-text-stroke:0.65px #222222;">교통사고 치료</div>
<div class="t" style="left:137.0px;top:1679.0px;height:34.8px;line-height:34.8px;font-size:29px;color:#161c3d;font-weight:bold;transform:scaleX(0.86);transform-origin:left center;-webkit-text-stroke:0.4px #161c3d;">[연령]</div>
<div class="a" style="left:137.0px;top:1756.0px;width:26.0px;height:26.0px;background:#2aa8c6;"></div>
<div class="t" style="left:169.5px;top:1757.7px;height:21.6px;line-height:21.6px;font-size:18px;color:#222222;transform:scaleX(0.96);transform-origin:left center;-webkit-text-stroke:0.65px #222222;">30대 이하</div>
<div class="a" style="left:275.0px;top:1756.0px;width:26.0px;height:26.0px;background:#3180bd;"></div>
<div class="t" style="left:307.5px;top:1757.7px;height:21.6px;line-height:21.6px;font-size:18px;color:#222222;transform:scaleX(0.96);transform-origin:left center;-webkit-text-stroke:0.65px #222222;">40대</div>
<div class="a" style="left:137.0px;top:1813.0px;width:26.0px;height:26.0px;background:#5c70cf;"></div>
<div class="t" style="left:169.5px;top:1814.7px;height:21.6px;line-height:21.6px;font-size:18px;color:#222222;transform:scaleX(0.96);transform-origin:left center;-webkit-text-stroke:0.65px #222222;">50대</div>
<div class="a" style="left:275.0px;top:1813.0px;width:26.0px;height:26.0px;background:#9a66c2;"></div>
<div class="t" style="left:307.5px;top:1814.7px;height:21.6px;line-height:21.6px;font-size:18px;color:#222222;transform:scaleX(0.96);transform-origin:left center;-webkit-text-stroke:0.65px #222222;">60세 이상</div>
<div class="t" style="left:571.0px;top:1750.0px;height:22.8px;line-height:22.8px;font-size:19px;color:#161c3d;transform:scaleX(0.945);transform-origin:left center;-webkit-text-stroke:0.65px #161c3d;">질환치료</div>
<div class="a" style="left:685.0px;top:1696.0px;width:207.0px;height:33.0px;background:#2aa8c6;"></div>
<div class="t" style="left:81.5px;width:800px;text-align:right;top:1699.3px;height:27.6px;line-height:27.6px;font-size:23px;color:#fff;transform:scaleX(0.89);transform-origin:right center;-webkit-text-stroke:0.3px #fff;">86.7</div>
<div class="a" style="left:685.0px;top:1732.0px;width:230.0px;height:33.0px;background:#3180bd;"></div>
<div class="t" style="left:104.5px;width:800px;text-align:right;top:1735.3px;height:27.6px;line-height:27.6px;font-size:23px;color:#fff;transform:scaleX(0.89);transform-origin:right center;-webkit-text-stroke:0.3px #fff;">90.8</div>
<div class="a" style="left:685.0px;top:1768.0px;width:250.0px;height:33.0px;background:#5c70cf;"></div>
<div class="t" style="left:124.5px;width:800px;text-align:right;top:1771.3px;height:27.6px;line-height:27.6px;font-size:23px;color:#fff;transform:scaleX(0.89);transform-origin:right center;-webkit-text-stroke:0.3px #fff;">95.3</div>
<div class="a" style="left:685.0px;top:1804.0px;width:270.0px;height:33.0px;background:#9a66c2;"></div>
<div class="t" style="left:144.5px;width:800px;text-align:right;top:1807.3px;height:27.6px;line-height:27.6px;font-size:23px;color:#fff;transform:scaleX(0.89);transform-origin:right center;-webkit-text-stroke:0.3px #fff;">99.0</div>
<div class="t" style="left:121.6px;top:2008.0px;height:22.8px;line-height:22.8px;font-size:19px;color:#161c3d;transform:scaleX(0.945);transform-origin:left center;-webkit-text-stroke:0.65px #161c3d;">건강증진</div>
<div class="a" style="left:206.0px;top:1952.0px;width:45.0px;height:33.0px;background:#2aa8c6;"></div>
<div class="t" style="left:262.7px;top:1957.7px;height:22.8px;line-height:22.8px;font-size:19px;color:#1a1a1a;transform:scaleX(0.885);transform-origin:left center;-webkit-text-stroke:0.5px #1a1a1a;">4.7</div>
<div class="a" style="left:206.0px;top:1988.0px;width:15.0px;height:33.0px;background:#3180bd;"></div>
<div class="t" style="left:232.8px;top:1993.7px;height:22.8px;line-height:22.8px;font-size:19px;color:#1a1a1a;transform:scaleX(0.885);transform-origin:left center;-webkit-text-stroke:0.5px #1a1a1a;">2.8</div>
<div class="a" style="left:206.0px;top:2024.0px;width:75.0px;height:33.0px;background:#5c70cf;"></div>
<div class="t" style="left:293.0px;top:2029.7px;height:22.8px;line-height:22.8px;font-size:19px;color:#1a1a1a;transform:scaleX(0.885);transform-origin:left center;-webkit-text-stroke:0.5px #1a1a1a;">7.2</div>
<div class="a" style="left:206.0px;top:2060.0px;width:37.0px;height:33.0px;background:#9a66c2;"></div>
<div class="t" style="left:255.5px;top:2065.7px;height:22.8px;line-height:22.8px;font-size:19px;color:#1a1a1a;transform:scaleX(0.885);transform-origin:left center;-webkit-text-stroke:0.5px #1a1a1a;">4.2</div>
<div class="t" style="left:431.0px;top:1993.6px;height:22.8px;line-height:22.8px;font-size:19px;color:#161c3d;transform:scaleX(0.905);transform-origin:left center;-webkit-text-stroke:0.65px #161c3d;">피부미용,</div>
<div class="t" style="left:431.0px;top:2018.7px;height:22.8px;line-height:22.8px;font-size:19px;color:#161c3d;transform:scaleX(0.905);transform-origin:left center;-webkit-text-stroke:0.65px #161c3d;">다이어트 등</div>
<div class="t" style="left:431.0px;top:2040.0px;height:22.8px;line-height:22.8px;font-size:19px;color:#161c3d;transform:scaleX(0.905);transform-origin:left center;-webkit-text-stroke:0.65px #161c3d;">미용</div>
<div class="a" style="left:544.0px;top:1952.0px;width:90.0px;height:33.0px;background:#2aa8c6;"></div>
<div class="t" style="left:646.0px;top:1957.7px;height:22.8px;line-height:22.8px;font-size:19px;color:#1a1a1a;transform:scaleX(0.885);transform-origin:left center;-webkit-text-stroke:0.5px #1a1a1a;">9.4</div>
<div class="a" style="left:544.0px;top:1988.0px;width:25.0px;height:33.0px;background:#3180bd;"></div>
<div class="t" style="left:581.8px;top:1993.7px;height:22.8px;line-height:22.8px;font-size:19px;color:#1a1a1a;transform:scaleX(0.885);transform-origin:left center;-webkit-text-stroke:0.5px #1a1a1a;">3.7</div>
<div class="a" style="left:544.0px;top:2024.0px;width:7.0px;height:33.0px;background:#5c70cf;"></div>
<div class="t" style="left:562.5px;top:2029.7px;height:22.8px;line-height:22.8px;font-size:19px;color:#1a1a1a;transform:scaleX(0.885);transform-origin:left center;-webkit-text-stroke:0.5px #1a1a1a;">0.7</div>
<div class="a" style="left:544.0px;top:2060.0px;width:15.0px;height:33.0px;background:#9a66c2;"></div>
<div class="t" style="left:571.0px;top:2065.7px;height:22.8px;line-height:22.8px;font-size:19px;color:#1a1a1a;transform:scaleX(0.885);transform-origin:left center;-webkit-text-stroke:0.5px #1a1a1a;">1.3</div>
<div class="t" style="left:734.0px;top:2000.6px;height:22.8px;line-height:22.8px;font-size:19px;color:#161c3d;transform:scaleX(0.905);transform-origin:left center;-webkit-text-stroke:0.65px #161c3d;">교통사고</div>
<div class="t" style="left:734.0px;top:2024.5px;height:22.8px;line-height:22.8px;font-size:19px;color:#161c3d;transform:scaleX(0.905);transform-origin:left center;-webkit-text-stroke:0.65px #161c3d;">치료</div>
<div class="a" style="left:813.5px;top:1952.0px;width:94.5px;height:33.0px;background:#2aa8c6;"></div>
<div class="t" style="left:920.4px;top:1957.7px;height:22.8px;line-height:22.8px;font-size:19px;color:#1a1a1a;transform:scaleX(0.885);transform-origin:left center;-webkit-text-stroke:0.5px #1a1a1a;">9.6</div>
<div class="a" style="left:813.5px;top:1988.0px;width:78.5px;height:33.0px;background:#3180bd;"></div>
<div class="t" style="left:903.8px;top:1993.7px;height:22.8px;line-height:22.8px;font-size:19px;color:#1a1a1a;transform:scaleX(0.885);transform-origin:left center;-webkit-text-stroke:0.5px #1a1a1a;">7.5</div>
<div class="a" style="left:813.5px;top:2024.0px;width:70.5px;height:33.0px;background:#5c70cf;"></div>
<div class="t" style="left:896.5px;top:2029.7px;height:22.8px;line-height:22.8px;font-size:19px;color:#1a1a1a;transform:scaleX(0.885);transform-origin:left center;-webkit-text-stroke:0.5px #1a1a1a;">7.0</div>
<div class="a" style="left:813.5px;top:2060.0px;width:17.5px;height:33.0px;background:#9a66c2;"></div>
<div class="t" style="left:844.4px;top:2065.7px;height:22.8px;line-height:22.8px;font-size:19px;color:#1a1a1a;transform:scaleX(0.885);transform-origin:left center;-webkit-text-stroke:0.5px #1a1a1a;">2.9</div>
<div class="a" style="left:54.0px;top:2235.0px;width:1030.0px;height:1505.0px;background:#ffffff;border-radius:10px;"></div>
<div class="a badge" style="left:84px;top:2260px;width:89px;height:50px;"></div>
<div class="t" style="left:-272.4px;width:800px;text-align:center;top:2269.8px;height:31.2px;line-height:31.2px;font-size:26px;color:#ffffff;font-weight:bold;-webkit-text-stroke:0.5px #ffffff;">입원</div>
<div class="t" style="left:183.0px;top:2273.0px;height:22.8px;line-height:22.8px;font-size:19px;color:#333;transform:scaleX(1.03);transform-origin:left center;">(한의원·한방병원)</div>
<div class="t" style="left:-189.0px;width:800px;text-align:center;top:2344.4px;height:33.6px;line-height:33.6px;font-size:28px;color:#161c3d;transform:scaleX(0.89);transform-origin:center center;-webkit-text-stroke:0.9px #161c3d;">한방의료기관</div>
<div class="t" style="left:-189.0px;width:800px;text-align:center;top:2378.4px;height:33.6px;line-height:33.6px;font-size:28px;color:#161c3d;transform:scaleX(0.89);transform-origin:center center;-webkit-text-stroke:0.9px #161c3d;">방문목적</div>
<div class="a" style="left:128.0px;top:2421.0px;width:162.0px;height:34.0px;background:#e4e7eb;border-radius:17px;"></div>
<div class="t" style="left:-194.0px;width:800px;text-align:center;top:2428.6px;height:18.0px;line-height:18.0px;font-size:15px;color:#555;transform:scaleX(0.97);transform-origin:center center;-webkit-text-stroke:0.45px #555;">복수응답&nbsp;&nbsp;&nbsp;단위 : %</div>
<div class="a" style="left:339.0px;top:2477.0px;width:683.0px;height:2.0px;background:#e2e2e2;"></div>
<div class="a" style="left:352.0px;top:2313.0px;width:121.0px;height:165.0px;background:#07438c;"></div>
<div class="a" style="left:522.0px;top:2458.0px;width:121.0px;height:20.0px;background:#2441bf;"></div>
<div class="a" style="left:693.0px;top:2471.5px;width:121.0px;height:6.5px;background:#5551dc;"></div>
<div class="a" style="left:864.6px;top:2408.0px;width:120.4px;height:70.0px;background:#9a6bcc;"></div>
<div class="t" style="left:182.0px;width:800px;text-align:center;top:2430.6px;height:27.1px;line-height:27.1px;font-size:22.6px;color:#555555;transform:scaleX(0.95);transform-origin:center center;-webkit-text-stroke:0.6px #555555;">4.4</div>
<div class="t" style="left:353.5px;width:800px;text-align:center;top:2444.1px;height:27.1px;line-height:27.1px;font-size:22.6px;color:#555555;transform:scaleX(0.95);transform-origin:center center;-webkit-text-stroke:0.6px #555555;">1.3</div>
<div class="t" style="left:525.0px;width:800px;text-align:center;top:2381.1px;height:27.1px;line-height:27.1px;font-size:22.6px;color:#555555;transform:scaleX(0.95);transform-origin:center center;-webkit-text-stroke:0.6px #555555;">34.5</div>
<div class="t" style="left:12.0px;width:800px;text-align:center;top:2482.9px;height:19.2px;line-height:19.2px;font-size:16px;color:#222222;transform:scaleX(0.9);transform-origin:center center;-webkit-text-stroke:0.65px #222222;">질환치료</div>
<div class="t" style="left:182.0px;width:800px;text-align:center;top:2482.9px;height:19.2px;line-height:19.2px;font-size:16px;color:#222222;transform:scaleX(0.9);transform-origin:center center;-webkit-text-stroke:0.65px #222222;">건강 증진</div>
<div class="t" style="left:353.0px;width:800px;text-align:center;top:2482.9px;height:19.2px;line-height:19.2px;font-size:16px;color:#222222;transform:scaleX(0.9);transform-origin:center center;-webkit-text-stroke:0.65px #222222;">피부미용,</div>
<div class="t" style="left:353.0px;width:800px;text-align:center;top:2502.5px;height:19.2px;line-height:19.2px;font-size:16px;color:#222222;transform:scaleX(0.9);transform-origin:center center;-webkit-text-stroke:0.65px #222222;">다이어트 등 미용</div>
<div class="t" style="left:525.0px;width:800px;text-align:center;top:2482.9px;height:19.2px;line-height:19.2px;font-size:16px;color:#222222;transform:scaleX(0.9);transform-origin:center center;-webkit-text-stroke:0.65px #222222;">교통사고 치료</div>
<svg class="a" style="left:92px;top:2557px;" width="956" height="2" viewBox="0 0 956 2"><line x1="0" y1="1" x2="956" y2="1" stroke="#d0d0d0" stroke-width="2" stroke-dasharray="5 2.3"/></svg>
<div class="t" style="left:136.0px;top:2606.0px;height:34.8px;line-height:34.8px;font-size:29px;color:#161c3d;font-weight:bold;transform:scaleX(0.86);transform-origin:left center;-webkit-text-stroke:0.4px #161c3d;">[동·읍면부]</div>
<div class="a" style="left:137.0px;top:2676.0px;width:58.0px;height:16.7px;background:#0a66a9;"></div>
<div class="t" style="left:137.0px;top:2695.3px;height:20.4px;line-height:20.4px;font-size:17px;color:#222222;transform:scaleX(0.99);transform-origin:left center;-webkit-text-stroke:0.65px #222222;">도시(동부)</div>
<div class="a" style="left:137.0px;top:2743.7px;width:58.0px;height:16.3px;background:#2db573;"></div>
<div class="t" style="left:137.0px;top:2766.0px;height:20.4px;line-height:20.4px;font-size:17px;color:#222222;transform:scaleX(0.99);transform-origin:left center;-webkit-text-stroke:0.65px #222222;">농어촌(읍면부)</div>
<div class="a" style="left:339.0px;top:2788.0px;width:683.0px;height:2.0px;background:#e2e2e2;"></div>
<div class="a" style="left:352.0px;top:2673.7px;width:58.4px;height:115.3px;background:#0a66a9;"></div>
<div class="a" style="left:414.5px;top:2648.5px;width:58.2px;height:140.5px;background:#2db573;"></div>
<div class="a" style="left:522.0px;top:2749.0px;width:58.7px;height:40.0px;background:#0a66a9;"></div>
<div class="a" style="left:583.8px;top:2769.0px;width:58.7px;height:20.0px;background:#2db573;"></div>
<div class="a" style="left:693.0px;top:2779.0px;width:58.4px;height:10.0px;background:#0a66a9;"></div>
<div class="a" style="left:754.8px;top:2786.5px;width:58.2px;height:2.5px;background:#2db573;"></div>
<div class="a" style="left:864.2px;top:2709.0px;width:58.3px;height:80.0px;background:#0a66a9;"></div>
<div class="a" style="left:925.6px;top:2729.0px;width:58.7px;height:60.0px;background:#2db573;"></div>
<div class="t" style="left:-19.0px;width:800px;text-align:center;top:2681.1px;height:27.2px;line-height:27.2px;font-size:22.7px;color:#fff;font-weight:bold;transform:scaleX(0.76);transform-origin:center center;-webkit-text-stroke:0.2px #fff;">65.2</div>
<div class="t" style="left:43.6px;width:800px;text-align:center;top:2657.1px;height:27.2px;line-height:27.2px;font-size:22.7px;color:#fff;font-weight:bold;transform:scaleX(0.76);transform-origin:center center;-webkit-text-stroke:0.2px #fff;">79.4</div>
<div class="t" style="left:151.0px;width:800px;text-align:center;top:2727.7px;height:21.6px;line-height:21.6px;font-size:18px;color:#555555;transform:scaleX(0.84);transform-origin:center center;">4.6</div>
<div class="t" style="left:213.0px;width:800px;text-align:center;top:2748.9px;height:21.6px;line-height:21.6px;font-size:18px;color:#555555;transform:scaleX(0.84);transform-origin:center center;">2.4</div>
<div class="t" style="left:322.0px;width:800px;text-align:center;top:2758.9px;height:21.6px;line-height:21.6px;font-size:18px;color:#555555;transform:scaleX(0.84);transform-origin:center center;">1.4</div>
<div class="t" style="left:383.0px;width:800px;text-align:center;top:2764.2px;height:21.6px;line-height:21.6px;font-size:18px;color:#555555;transform:scaleX(0.84);transform-origin:center center;">-</div>
<div class="t" style="left:493.0px;width:800px;text-align:center;top:2688.2px;height:21.6px;line-height:21.6px;font-size:18px;color:#555555;transform:scaleX(0.84);transform-origin:center center;">35.9</div>
<div class="t" style="left:555.0px;width:800px;text-align:center;top:2708.8px;height:21.6px;line-height:21.6px;font-size:18px;color:#555555;transform:scaleX(0.84);transform-origin:center center;">20.6</div>
<div class="t" style="left:12.0px;width:800px;text-align:center;top:2794.9px;height:18.0px;line-height:18.0px;font-size:15px;color:#222222;transform:scaleX(0.885);transform-origin:center center;-webkit-text-stroke:0.65px #222222;">질환치료</div>
<div class="t" style="left:182.0px;width:800px;text-align:center;top:2794.9px;height:18.0px;line-height:18.0px;font-size:15px;color:#222222;transform:scaleX(0.885);transform-origin:center center;-webkit-text-stroke:0.65px #222222;">건강 증진</div>
<div class="t" style="left:353.0px;width:800px;text-align:center;top:2794.9px;height:18.0px;line-height:18.0px;font-size:15px;color:#222222;transform:scaleX(0.885);transform-origin:center center;-webkit-text-stroke:0.65px #222222;">피부미용,</div>
<div class="t" style="left:353.0px;width:800px;text-align:center;top:2812.2px;height:18.0px;line-height:18.0px;font-size:15px;color:#222222;transform:scaleX(0.885);transform-origin:center center;-webkit-text-stroke:0.65px #222222;">다이어트 등 미용</div>
<div class="t" style="left:524.0px;width:800px;text-align:center;top:2794.9px;height:18.0px;line-height:18.0px;font-size:15px;color:#222222;transform:scaleX(0.885);transform-origin:center center;-webkit-text-stroke:0.65px #222222;">교통사고 치료</div>
<div class="t" style="left:136.0px;top:2904.7px;height:34.8px;line-height:34.8px;font-size:29px;color:#161c3d;font-weight:bold;transform:scaleX(0.86);transform-origin:left center;-webkit-text-stroke:0.4px #161c3d;">[성별]</div>
<svg class="a" style="left:114px;top:2951.4px;" width="140" height="130" viewBox="0 0 140 130"><circle cx="88.0" cy="42.9" r="28.6" fill="none" stroke="#fb3a5b" stroke-width="9"/><path d="M97.5 73.9 L107.5 100.9 M92.5 93.1 L115.7 84.6" stroke="#fb3a5b" stroke-width="8.5" stroke-linecap="round" fill="none"/><circle cx="40.0" cy="65.0" r="28.3" fill="none" stroke="#107fb3" stroke-width="9"/><path d="M36.0 34.0 L21.0 9.0 M13.6 25.0 L20.5 8.0 L36.7 17.0" stroke="#107fb3" stroke-width="8.5" stroke-linecap="round" stroke-linejoin="round" fill="none"/></svg>
<div class="a" style="left:339.0px;top:3090.0px;width:683.0px;height:2.0px;background:#e2e2e2;"></div>
<div class="a" style="left:352.0px;top:2995.8px;width:58.4px;height:95.2px;background:#0d4a8a;"></div>
<div class="a" style="left:414.5px;top:2960.8px;width:58.2px;height:130.2px;background:#c41236;"></div>
<div class="a" style="left:522.0px;top:3059.3px;width:58.7px;height:31.7px;background:#0b6287;"></div>
<div class="a" style="left:583.8px;top:3053.5px;width:58.7px;height:37.5px;background:#d23a5a;"></div>
<div class="a" style="left:693.0px;top:3086.0px;width:58.4px;height:5.0px;background:#0b6287;"></div>
<div class="a" style="left:754.8px;top:3086.0px;width:58.2px;height:5.0px;background:#d23a5a;"></div>
<div class="a" style="left:863.5px;top:3001.4px;width:58.5px;height:89.6px;background:#0b6287;"></div>
<div class="a" style="left:926.0px;top:3031.5px;width:58.7px;height:59.5px;background:#d23a5a;"></div>
<svg class="a" style="left:369.2px;top:2969.8px" width="24" height="26" viewBox="0 0 24 26"><circle cx="12" cy="5.5" r="5.2" fill="#0d4a8a"/><path d="M1.3 26 V16 Q1.3 11.5 5.8 11.5 H18.2 Q22.7 11.5 22.7 16 V26 Z" fill="#0d4a8a"/><path d="M5.6 18.5 V26 M18.4 18.5 V26" stroke="#fff" stroke-width="1.2" opacity="0.9"/></svg>
<svg class="a" style="left:430.6px;top:2932.8px" width="26" height="28" viewBox="0 0 26 28"><circle cx="13" cy="5.6" r="5.3" fill="#c41236"/><path d="M1 28 L4.8 14.5 Q5.8 11.2 9 11.2 H17 Q20.2 11.2 21.2 14.5 L25 28 Z" fill="#c41236"/><path d="M7.2 20 L5.4 28 M18.8 20 L20.6 28" stroke="#fff" stroke-width="1.2" opacity="0.9"/></svg>
<svg class="a" style="left:539.35px;top:3033.3px" width="24" height="26" viewBox="0 0 24 26"><circle cx="12" cy="5.5" r="5.2" fill="#0b6287"/><path d="M1.3 26 V16 Q1.3 11.5 5.8 11.5 H18.2 Q22.7 11.5 22.7 16 V26 Z" fill="#0b6287"/><path d="M5.6 18.5 V26 M18.4 18.5 V26" stroke="#fff" stroke-width="1.2" opacity="0.9"/></svg>
<svg class="a" style="left:600.15px;top:3025.5px" width="26" height="28" viewBox="0 0 26 28"><circle cx="13" cy="5.6" r="5.3" fill="#d23a5a"/><path d="M1 28 L4.8 14.5 Q5.8 11.2 9 11.2 H17 Q20.2 11.2 21.2 14.5 L25 28 Z" fill="#d23a5a"/><path d="M7.2 20 L5.4 28 M18.8 20 L20.6 28" stroke="#fff" stroke-width="1.2" opacity="0.9"/></svg>
<svg class="a" style="left:710.2px;top:3060px" width="24" height="26" viewBox="0 0 24 26"><circle cx="12" cy="5.5" r="5.2" fill="#0b6287"/><path d="M1.3 26 V16 Q1.3 11.5 5.8 11.5 H18.2 Q22.7 11.5 22.7 16 V26 Z" fill="#0b6287"/><path d="M5.6 18.5 V26 M18.4 18.5 V26" stroke="#fff" stroke-width="1.2" opacity="0.9"/></svg>
<svg class="a" style="left:770.9px;top:3058px" width="26" height="28" viewBox="0 0 26 28"><circle cx="13" cy="5.6" r="5.3" fill="#d23a5a"/><path d="M1 28 L4.8 14.5 Q5.8 11.2 9 11.2 H17 Q20.2 11.2 21.2 14.5 L25 28 Z" fill="#d23a5a"/><path d="M7.2 20 L5.4 28 M18.8 20 L20.6 28" stroke="#fff" stroke-width="1.2" opacity="0.9"/></svg>
<svg class="a" style="left:880.75px;top:2975.4px" width="24" height="26" viewBox="0 0 24 26"><circle cx="12" cy="5.5" r="5.2" fill="#0b6287"/><path d="M1.3 26 V16 Q1.3 11.5 5.8 11.5 H18.2 Q22.7 11.5 22.7 16 V26 Z" fill="#0b6287"/><path d="M5.6 18.5 V26 M18.4 18.5 V26" stroke="#fff" stroke-width="1.2" opacity="0.9"/></svg>
<svg class="a" style="left:942.35px;top:3003.5px" width="26" height="28" viewBox="0 0 26 28"><circle cx="13" cy="5.6" r="5.3" fill="#d23a5a"/><path d="M1 28 L4.8 14.5 Q5.8 11.2 9 11.2 H17 Q20.2 11.2 21.2 14.5 L25 28 Z" fill="#d23a5a"/><path d="M7.2 20 L5.4 28 M18.8 20 L20.6 28" stroke="#fff" stroke-width="1.2" opacity="0.9"/></svg>
<div class="t" style="left:-19.0px;width:800px;text-align:center;top:3006.1px;height:27.2px;line-height:27.2px;font-size:22.7px;color:#fff;font-weight:bold;transform:scaleX(0.76);transform-origin:center center;-webkit-text-stroke:0.2px #fff;">57.5</div>
<div class="t" style="left:43.6px;width:800px;text-align:center;top:2969.1px;height:27.2px;line-height:27.2px;font-size:22.7px;color:#fff;font-weight:bold;transform:scaleX(0.76);transform-origin:center center;-webkit-text-stroke:0.2px #fff;">71.2</div>
<div class="t" style="left:151.0px;width:800px;text-align:center;top:3010.2px;height:21.6px;line-height:21.6px;font-size:18px;color:#555555;transform:scaleX(0.84);transform-origin:center center;">4.1</div>
<div class="t" style="left:213.0px;width:800px;text-align:center;top:2999.7px;height:21.6px;line-height:21.6px;font-size:18px;color:#555555;transform:scaleX(0.84);transform-origin:center center;">4.5</div>
<div class="t" style="left:322.0px;width:800px;text-align:center;top:3036.0px;height:21.6px;line-height:21.6px;font-size:18px;color:#555555;transform:scaleX(0.84);transform-origin:center center;">1.3</div>
<div class="t" style="left:384.0px;width:800px;text-align:center;top:3032.9px;height:21.6px;line-height:21.6px;font-size:18px;color:#555555;transform:scaleX(0.84);transform-origin:center center;">1.3</div>
<div class="t" style="left:493.0px;width:800px;text-align:center;top:2949.2px;height:21.6px;line-height:21.6px;font-size:18px;color:#555555;transform:scaleX(0.84);transform-origin:center center;">43.8</div>
<div class="t" style="left:555.0px;width:800px;text-align:center;top:2980.2px;height:21.6px;line-height:21.6px;font-size:18px;color:#555555;transform:scaleX(0.84);transform-origin:center center;">29.7</div>
<div class="t" style="left:12.0px;width:800px;text-align:center;top:3097.4px;height:18.0px;line-height:18.0px;font-size:15px;color:#222222;transform:scaleX(0.885);transform-origin:center center;-webkit-text-stroke:0.65px #222222;">질환치료</div>
<div class="t" style="left:182.0px;width:800px;text-align:center;top:3097.4px;height:18.0px;line-height:18.0px;font-size:15px;color:#222222;transform:scaleX(0.885);transform-origin:center center;-webkit-text-stroke:0.65px #222222;">건강 증진</div>
<div class="t" style="left:353.0px;width:800px;text-align:center;top:3097.4px;height:18.0px;line-height:18.0px;font-size:15px;color:#222222;transform:scaleX(0.885);transform-origin:center center;-webkit-text-stroke:0.65px #222222;">피부미용,</div>
<div class="t" style="left:353.0px;width:800px;text-align:center;top:3116.6px;height:18.0px;line-height:18.0px;font-size:15px;color:#222222;transform:scaleX(0.885);transform-origin:center center;-webkit-text-stroke:0.65px #222222;">다이어트 등 미용</div>
<div class="t" style="left:524.0px;width:800px;text-align:center;top:3097.4px;height:18.0px;line-height:18.0px;font-size:15px;color:#222222;transform:scaleX(0.885);transform-origin:center center;-webkit-text-stroke:0.65px #222222;">교통사고 치료</div>
<div class="t" style="left:137.8px;top:3234.2px;height:34.8px;line-height:34.8px;font-size:29px;color:#161c3d;font-weight:bold;transform:scaleX(0.86);transform-origin:left center;-webkit-text-stroke:0.4px #161c3d;">[연령]</div>
<div class="a" style="left:137.0px;top:3312.0px;width:26.0px;height:26.0px;background:#2cb5a8;"></div>
<div class="t" style="left:169.0px;top:3313.7px;height:21.6px;line-height:21.6px;font-size:18px;color:#222222;transform:scaleX(0.96);transform-origin:left center;-webkit-text-stroke:0.65px #222222;">19~29세</div>
<div class="a" style="left:275.0px;top:3312.0px;width:26.0px;height:26.0px;background:#2aa8c6;"></div>
<div class="t" style="left:309.0px;top:3313.7px;height:21.6px;line-height:21.6px;font-size:18px;color:#222222;transform:scaleX(0.96);transform-origin:left center;-webkit-text-stroke:0.65px #222222;">30 대</div>
<div class="a" style="left:399.0px;top:3312.0px;width:26.0px;height:26.0px;background:#3180bd;"></div>
<div class="t" style="left:433.5px;top:3313.7px;height:21.6px;line-height:21.6px;font-size:18px;color:#222222;transform:scaleX(0.96);transform-origin:left center;-webkit-text-stroke:0.65px #222222;">40 대</div>
<div class="a" style="left:137.0px;top:3368.0px;width:26.0px;height:26.0px;background:#5c70cf;"></div>
<div class="t" style="left:172.0px;top:3369.7px;height:21.6px;line-height:21.6px;font-size:18px;color:#222222;transform:scaleX(0.96);transform-origin:left center;-webkit-text-stroke:0.65px #222222;">50 대</div>
<div class="a" style="left:275.0px;top:3368.0px;width:26.0px;height:26.0px;background:#9a66c2;"></div>
<div class="t" style="left:309.0px;top:3369.7px;height:21.6px;line-height:21.6px;font-size:18px;color:#222222;transform:scaleX(0.96);transform-origin:left center;-webkit-text-stroke:0.65px #222222;">60세 이상</div>
<div class="t" style="left:572.0px;top:3306.5px;height:22.8px;line-height:22.8px;font-size:19px;color:#161c3d;transform:scaleX(0.945);transform-origin:left center;-webkit-text-stroke:0.65px #161c3d;">질환치료</div>
<div class="a" style="left:685.0px;top:3236.0px;width:180.0px;height:32.5px;background:#2cb5a8;"></div>
<div class="t" style="left:876.0px;top:3241.4px;height:22.8px;line-height:22.8px;font-size:19px;color:#1a1a1a;transform:scaleX(0.885);transform-origin:left center;-webkit-text-stroke:0.5px #1a1a1a;">43.7</div>
<div class="a" style="left:685.0px;top:3272.5px;width:215.4px;height:32.5px;background:#2aa8c6;"></div>
<div class="t" style="left:911.0px;top:3277.9px;height:22.8px;line-height:22.8px;font-size:19px;color:#1a1a1a;transform:scaleX(0.885);transform-origin:left center;-webkit-text-stroke:0.5px #1a1a1a;">54.7</div>
<div class="a" style="left:685.0px;top:3309.0px;width:250.0px;height:32.5px;background:#3180bd;"></div>
<div class="t" style="left:946.7px;top:3314.4px;height:22.8px;line-height:22.8px;font-size:19px;color:#1a1a1a;transform:scaleX(0.885);transform-origin:left center;-webkit-text-stroke:0.5px #1a1a1a;">65.7</div>
<div class="a" style="left:685.0px;top:3345.0px;width:280.4px;height:32.5px;background:#5c70cf;"></div>
<div class="t" style="left:976.3px;top:3350.4px;height:22.8px;line-height:22.8px;font-size:19px;color:#1a1a1a;transform:scaleX(0.885);transform-origin:left center;-webkit-text-stroke:0.5px #1a1a1a;">71.4</div>
<div class="a" style="left:685.0px;top:3381.0px;width:300.3px;height:32.5px;background:#9a66c2;"></div>
<div class="t" style="left:996.9px;top:3386.4px;height:22.8px;line-height:22.8px;font-size:19px;color:#1a1a1a;transform:scaleX(0.885);transform-origin:left center;-webkit-text-stroke:0.5px #1a1a1a;">79.8</div>
<div class="t" style="left:113.5px;top:3547.6px;height:22.8px;line-height:22.8px;font-size:19px;color:#161c3d;transform:scaleX(0.945);transform-origin:left center;-webkit-text-stroke:0.65px #161c3d;">건강증진</div>
<div class="a" style="left:198.5px;top:3478.0px;width:59.8px;height:32.5px;background:#2cb5a8;"></div>
<div class="t" style="left:270.7px;top:3483.4px;height:22.8px;line-height:22.8px;font-size:19px;color:#1a1a1a;transform:scaleX(0.885);transform-origin:left center;-webkit-text-stroke:0.5px #1a1a1a;">6.6</div>
<div class="a" style="left:198.5px;top:3514.0px;width:80.3px;height:32.5px;background:#2aa8c6;"></div>
<div class="t" style="left:289.0px;top:3519.4px;height:22.8px;line-height:22.8px;font-size:19px;color:#1a1a1a;transform:scaleX(0.885);transform-origin:left center;-webkit-text-stroke:0.5px #1a1a1a;">8.3</div>
<div class="a" style="left:198.5px;top:3550.0px;width:50.1px;height:32.5px;background:#3180bd;"></div>
<div class="t" style="left:261.4px;top:3555.4px;height:22.8px;line-height:22.8px;font-size:19px;color:#1a1a1a;transform:scaleX(0.885);transform-origin:left center;-webkit-text-stroke:0.5px #1a1a1a;">5.1</div>
<div class="a" style="left:198.5px;top:3586.0px;width:25.0px;height:32.5px;background:#5c70cf;"></div>
<div class="t" style="left:235.0px;top:3591.4px;height:22.8px;line-height:22.8px;font-size:19px;color:#1a1a1a;transform:scaleX(0.885);transform-origin:left center;-webkit-text-stroke:0.5px #1a1a1a;">2.5</div>
<div class="a" style="left:198.5px;top:3622.0px;width:18.1px;height:32.5px;background:#9a66c2;"></div>
<div class="t" style="left:228.0px;top:3627.4px;height:22.8px;line-height:22.8px;font-size:19px;color:#1a1a1a;transform:scaleX(0.885);transform-origin:left center;-webkit-text-stroke:0.5px #1a1a1a;">2.3</div>
<div class="t" style="left:423.0px;top:3533.0px;height:22.8px;line-height:22.8px;font-size:19px;color:#161c3d;transform:scaleX(0.905);transform-origin:left center;-webkit-text-stroke:0.65px #161c3d;">피부미용,</div>
<div class="t" style="left:423.0px;top:3556.0px;height:22.8px;line-height:22.8px;font-size:19px;color:#161c3d;transform:scaleX(0.905);transform-origin:left center;-webkit-text-stroke:0.65px #161c3d;">다이어트 등</div>
<div class="t" style="left:423.0px;top:3579.0px;height:22.8px;line-height:22.8px;font-size:19px;color:#161c3d;transform:scaleX(0.905);transform-origin:left center;-webkit-text-stroke:0.65px #161c3d;">미용</div>
<div class="a" style="left:536.0px;top:3478.0px;width:22.0px;height:32.5px;background:#2cb5a8;"></div>
<div class="t" style="left:570.6px;top:3483.4px;height:22.8px;line-height:22.8px;font-size:19px;color:#1a1a1a;transform:scaleX(0.885);transform-origin:left center;-webkit-text-stroke:0.5px #1a1a1a;">2.3</div>
<div class="a" style="left:536.0px;top:3514.0px;width:40.0px;height:32.5px;background:#2aa8c6;"></div>
<div class="t" style="left:588.0px;top:3519.4px;height:22.8px;line-height:22.8px;font-size:19px;color:#1a1a1a;transform:scaleX(0.885);transform-origin:left center;-webkit-text-stroke:0.5px #1a1a1a;">4.0</div>
<div class="a" style="left:536.0px;top:3550.0px;width:10.3px;height:32.5px;background:#3180bd;"></div>
<div class="t" style="left:559.5px;top:3555.4px;height:22.8px;line-height:22.8px;font-size:19px;color:#1a1a1a;transform:scaleX(0.885);transform-origin:left center;-webkit-text-stroke:0.5px #1a1a1a;">0.6</div>
<div class="a" style="left:536.0px;top:3586.0px;width:11.9px;height:32.5px;background:#5c70cf;"></div>
<div class="t" style="left:561.4px;top:3591.4px;height:22.8px;line-height:22.8px;font-size:19px;color:#1a1a1a;transform:scaleX(0.885);transform-origin:left center;-webkit-text-stroke:0.5px #1a1a1a;">0.8</div>
<div class="t" style="left:564.0px;top:3627.4px;height:22.8px;line-height:22.8px;font-size:19px;color:#1a1a1a;transform:scaleX(0.885);transform-origin:left center;-webkit-text-stroke:0.5px #1a1a1a;">-</div>
<div class="t" style="left:725.5px;top:3542.0px;height:22.8px;line-height:22.8px;font-size:19px;color:#161c3d;transform:scaleX(0.905);transform-origin:left center;-webkit-text-stroke:0.65px #161c3d;">교통사고</div>
<div class="t" style="left:725.5px;top:3563.8px;height:22.8px;line-height:22.8px;font-size:19px;color:#161c3d;transform:scaleX(0.905);transform-origin:left center;-webkit-text-stroke:0.65px #161c3d;">치료</div>
<div class="a" style="left:806.6px;top:3478.0px;width:199.7px;height:32.5px;background:#2cb5a8;"></div>
<div class="t" style="left:1018.8px;top:3483.4px;height:22.8px;line-height:22.8px;font-size:19px;color:#1a1a1a;transform:scaleX(0.885);transform-origin:left center;-webkit-text-stroke:0.5px #1a1a1a;">53.6</div>
<div class="a" style="left:806.6px;top:3514.0px;width:175.1px;height:32.5px;background:#2aa8c6;"></div>
<div class="t" style="left:993.3px;top:3519.4px;height:22.8px;line-height:22.8px;font-size:19px;color:#1a1a1a;transform:scaleX(0.885);transform-origin:left center;-webkit-text-stroke:0.5px #1a1a1a;">43.2</div>
<div class="a" style="left:806.6px;top:3550.0px;width:155.2px;height:32.5px;background:#3180bd;"></div>
<div class="t" style="left:973.4px;top:3555.4px;height:22.8px;line-height:22.8px;font-size:19px;color:#1a1a1a;transform:scaleX(0.885);transform-origin:left center;-webkit-text-stroke:0.5px #1a1a1a;">35.9</div>
<div class="a" style="left:806.6px;top:3586.0px;width:139.9px;height:32.5px;background:#5c70cf;"></div>
<div class="t" style="left:958.0px;top:3591.4px;height:22.8px;line-height:22.8px;font-size:19px;color:#1a1a1a;transform:scaleX(0.885);transform-origin:left center;-webkit-text-stroke:0.5px #1a1a1a;">30.1</div>
<div class="a" style="left:806.6px;top:3622.0px;width:105.2px;height:32.5px;background:#9a66c2;"></div>
<div class="t" style="left:923.8px;top:3627.4px;height:22.8px;line-height:22.8px;font-size:19px;color:#1a1a1a;transform:scaleX(0.885);transform-origin:left center;-webkit-text-stroke:0.5px #1a1a1a;">24.0</div>
</body></html>
